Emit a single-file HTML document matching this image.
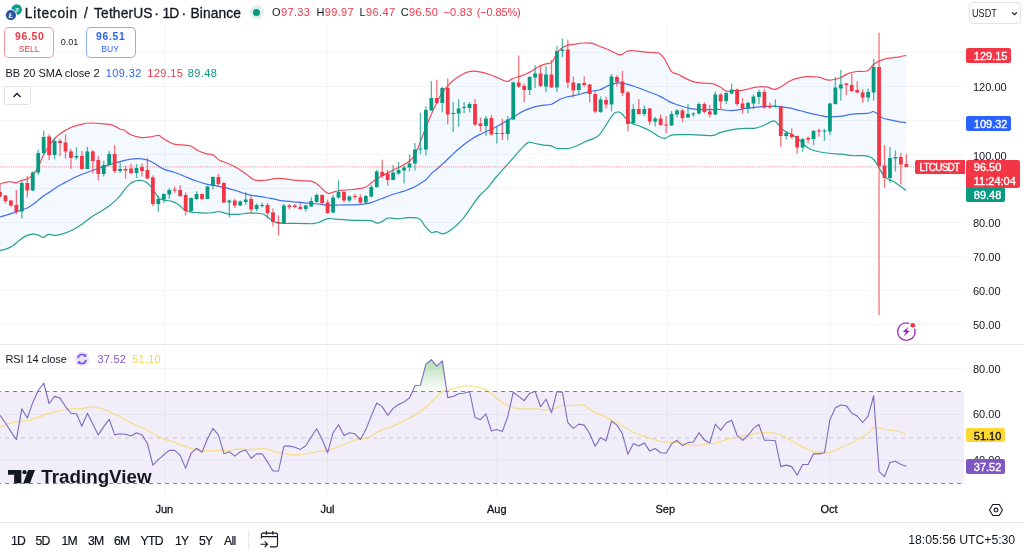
<!DOCTYPE html>
<html><head><meta charset="utf-8"><title>LTCUSDT</title>
<style>
html,body{margin:0;padding:0;background:#fff;}
body{width:1024px;height:555px;position:relative;overflow:hidden;font-family:"Liberation Sans",sans-serif;color:#131722;}
.t{position:absolute;white-space:nowrap;line-height:1;}
.ax{font-size:11px;left:973px;color:#131722;}
.lab{position:absolute;color:#fff;-webkit-text-stroke:0.35px currentColor;font-size:11px;line-height:1;white-space:nowrap;box-sizing:border-box;border-radius:2px;}
.w{position:absolute;top:0;display:inline-block;white-space:nowrap}
.r{color:#f23645}.b{color:#2962ff}.g{color:#089981}
.bt{font-size:12.2px;top:535.3px;letter-spacing:-0.7px;-webkit-text-stroke:0.2px #131722}
.mo{font-size:11px;top:504.3px;color:#131722;-webkit-text-stroke:0.3px #131722}
</style></head><body>
<svg width="1024" height="555" viewBox="0 0 1024 555" style="position:absolute;left:0;top:0">
<line x1="0" y1="52.5" x2="964" y2="52.5" stroke="#f4f5f8" stroke-width="1"/>
<line x1="0" y1="86.5" x2="964" y2="86.5" stroke="#f4f5f8" stroke-width="1"/>
<line x1="0" y1="120.5" x2="964" y2="120.5" stroke="#f4f5f8" stroke-width="1"/>
<line x1="0" y1="154.5" x2="964" y2="154.5" stroke="#f4f5f8" stroke-width="1"/>
<line x1="0" y1="188.5" x2="964" y2="188.5" stroke="#f4f5f8" stroke-width="1"/>
<line x1="0" y1="222.5" x2="964" y2="222.5" stroke="#f4f5f8" stroke-width="1"/>
<line x1="0" y1="256.5" x2="964" y2="256.5" stroke="#f4f5f8" stroke-width="1"/>
<line x1="0" y1="290.5" x2="964" y2="290.5" stroke="#f4f5f8" stroke-width="1"/>
<line x1="0" y1="324.5" x2="964" y2="324.5" stroke="#f4f5f8" stroke-width="1"/>
<line x1="0" y1="368.5" x2="964" y2="368.5" stroke="#f4f5f8" stroke-width="1"/>
<line x1="0" y1="414.5" x2="964" y2="414.5" stroke="#f4f5f8" stroke-width="1"/>
<line x1="0" y1="460.5" x2="964" y2="460.5" stroke="#f4f5f8" stroke-width="1"/>
<line x1="164.9" y1="24" x2="164.9" y2="344" stroke="#f4f5f8" stroke-width="1"/>
<line x1="164.9" y1="345" x2="164.9" y2="497" stroke="#f4f5f8" stroke-width="1"/>
<line x1="327.4" y1="24" x2="327.4" y2="344" stroke="#f4f5f8" stroke-width="1"/>
<line x1="327.4" y1="345" x2="327.4" y2="497" stroke="#f4f5f8" stroke-width="1"/>
<line x1="496.9" y1="24" x2="496.9" y2="344" stroke="#f4f5f8" stroke-width="1"/>
<line x1="496.9" y1="345" x2="496.9" y2="497" stroke="#f4f5f8" stroke-width="1"/>
<line x1="667.0" y1="24" x2="667.0" y2="344" stroke="#f4f5f8" stroke-width="1"/>
<line x1="667.0" y1="345" x2="667.0" y2="497" stroke="#f4f5f8" stroke-width="1"/>
<line x1="829.9" y1="24" x2="829.9" y2="344" stroke="#f4f5f8" stroke-width="1"/>
<line x1="829.9" y1="345" x2="829.9" y2="497" stroke="#f4f5f8" stroke-width="1"/>
<path d="M0.0,184.2 C1.1,183.8 4.2,182.6 6.3,182.2 C8.3,181.8 9.6,181.7 11.5,181.8 C13.3,181.9 14.6,183.1 16.4,182.9 C18.2,182.6 19.5,180.9 21.4,180.3 C23.3,179.6 25.2,180.0 27.0,179.2 C28.9,178.4 29.9,177.6 31.6,175.9 C33.3,174.3 34.9,172.6 36.5,170.1 C38.1,167.6 39.1,164.8 40.4,161.9 C41.8,159.0 42.6,156.6 44.1,153.9 C45.6,151.2 46.9,149.4 48.6,146.8 C50.4,144.1 51.9,141.6 54.1,139.2 C56.2,136.8 57.4,135.5 60.5,133.4 C63.7,131.2 67.5,129.0 71.4,127.3 C75.2,125.6 78.7,124.8 82.2,124.1 C85.7,123.3 87.3,123.1 90.8,123.0 C94.3,122.9 97.7,123.2 101.6,123.6 C105.5,124.0 108.9,124.1 112.4,125.1 C115.9,126.2 118.9,128.6 121.1,129.5 C123.2,130.3 122.6,129.0 124.3,130.0 C126.1,131.0 127.7,133.4 130.8,134.8 C133.9,136.1 137.7,137.3 141.6,137.6 C145.5,137.9 149.3,136.9 152.4,136.5 C155.5,136.1 157.0,135.0 158.9,135.4 C160.9,135.8 160.5,137.1 163.2,138.6 C166.0,140.2 170.2,142.9 174.1,144.1 C177.9,145.2 181.8,144.7 184.9,145.1 C188.0,145.5 189.0,145.2 191.4,146.2 C193.7,147.2 195.1,149.2 197.8,150.5 C200.6,151.9 203.8,153.0 206.5,153.8 C209.2,154.6 210.6,153.7 213.0,154.9 C215.3,156.0 216.7,158.7 219.5,160.3 C222.2,161.8 224.6,162.0 228.1,163.5 C231.6,165.1 235.6,167.0 238.9,168.9 C242.2,170.9 243.6,172.3 246.5,174.3 C249.4,176.3 251.6,179.1 255.1,180.2 C258.6,181.2 262.4,180.4 265.9,180.2 C269.4,179.9 271.5,178.9 274.6,178.6 C277.7,178.4 279.7,178.4 283.2,178.6 C286.7,178.9 290.2,179.8 294.1,180.2 C297.9,180.6 301.4,180.5 304.9,180.8 C308.4,181.1 310.8,180.8 313.5,181.9 C316.2,182.9 317.5,184.6 320.0,186.6 C322.5,188.7 324.8,192.2 327.6,193.1 C330.3,194.0 332.2,192.2 335.1,191.6 C338.1,191.1 340.7,190.5 343.8,190.1 C346.9,189.7 349.3,189.8 352.4,189.5 C355.5,189.1 358.6,188.9 361.1,188.4 C363.6,187.9 364.3,188.0 366.5,186.8 C368.6,185.5 370.2,183.3 373.0,181.4 C375.7,179.4 378.1,177.9 381.6,175.9 C385.1,174.0 388.5,172.5 392.4,170.5 C396.3,168.6 400.1,166.9 403.2,165.1 C406.4,163.4 407.6,162.8 409.7,160.8 C411.9,158.9 413.2,157.8 415.1,154.3 C417.1,150.8 418.6,146.2 420.5,141.4 C422.5,136.5 424.0,132.2 425.9,127.3 C427.9,122.4 429.4,118.8 431.4,114.3 C433.3,109.8 434.8,106.3 436.8,102.4 C438.7,98.5 440.2,95.6 442.2,92.7 C444.1,89.8 445.6,88.4 447.6,86.2 C449.5,84.1 450.8,82.6 453.0,80.8 C455.1,79.0 457.1,77.5 459.5,76.1 C461.8,74.6 463.6,73.5 465.9,72.6 C468.3,71.7 469.7,71.2 472.4,71.1 C475.2,71.0 478.2,71.6 481.1,72.2 C484.0,72.7 485.7,73.4 488.6,74.3 C491.6,75.3 494.0,76.3 497.3,77.6 C500.6,78.9 504.3,81.3 507.0,81.5 C509.8,81.7 510.3,79.5 512.4,78.6 C514.6,77.8 516.6,77.3 518.9,76.5 C521.3,75.7 523.1,75.3 525.4,74.3 C527.7,73.4 529.6,72.4 531.9,71.1 C534.2,69.7 536.0,68.0 538.4,66.8 C540.7,65.5 542.5,64.9 544.9,64.2 C547.2,63.4 549.4,63.9 551.4,62.4 C553.3,61.0 554.1,58.3 555.7,55.9 C557.2,53.6 558.1,51.3 560.0,49.5 C561.9,47.6 563.8,46.5 566.5,45.6 C569.2,44.6 572.0,44.5 575.1,44.1 C578.2,43.6 580.7,43.1 583.8,43.0 C586.9,42.9 589.5,42.8 592.4,43.4 C595.4,44.0 597.1,45.3 600.0,46.5 C602.9,47.6 605.5,48.4 608.6,49.7 C611.8,51.1 615.0,53.2 617.3,54.1 C619.6,54.9 619.9,55.2 621.6,54.7 C623.4,54.2 624.7,51.9 627.0,51.2 C629.4,50.5 631.7,50.7 634.6,50.8 C637.5,50.9 640.1,51.6 643.2,51.9 C646.4,52.2 649.0,52.3 651.9,52.5 C654.8,52.8 657.1,52.2 659.5,53.4 C661.8,54.7 662.7,56.2 664.9,59.5 C667.0,62.7 669.0,68.7 671.4,71.4 C673.7,74.0 675.1,72.8 677.8,74.2 C680.6,75.5 683.4,77.5 686.5,78.9 C689.6,80.4 692.0,81.4 695.1,82.2 C698.2,82.9 700.7,83.0 703.8,83.2 C706.9,83.5 710.1,83.3 712.4,83.7 C714.8,84.1 715.4,84.9 716.8,85.4 C718.1,86.0 718.2,85.7 720.0,86.8 C721.8,87.8 724.2,90.4 726.5,91.1 C728.8,91.8 730.2,90.8 733.0,90.6 C735.7,90.5 738.5,90.8 741.6,90.4 C744.7,90.0 747.2,89.1 750.3,88.5 C753.4,87.8 755.8,87.0 758.9,86.8 C762.0,86.5 764.6,86.7 767.6,87.2 C770.5,87.7 772.4,89.6 775.1,89.4 C777.9,89.1 779.8,87.3 782.7,85.7 C785.6,84.0 788.2,81.7 791.4,80.3 C794.5,78.8 796.9,78.3 800.0,77.7 C803.1,77.0 805.5,76.7 808.6,76.6 C811.8,76.5 815.3,76.9 817.3,77.0 C819.3,77.2 818.0,76.8 820.0,77.3 C822.0,77.9 825.1,80.0 828.6,80.1 C832.2,80.3 836.0,79.1 839.5,78.0 C843.0,76.8 845.0,74.8 848.1,73.6 C851.2,72.5 853.3,72.0 856.8,71.5 C860.3,71.0 864.5,72.2 867.6,70.8 C870.7,69.5 871.3,65.9 874.1,63.9 C876.8,61.9 879.6,60.7 882.7,59.6 C885.8,58.5 888.2,58.4 891.4,57.9 C894.5,57.4 897.4,57.3 900.0,56.8 C902.6,56.3 905.0,55.5 906.1,55.3 L906.1,190.3 C905.0,189.5 902.3,187.5 900.0,185.9 C897.7,184.4 895.8,183.0 893.5,181.6 C891.2,180.3 889.0,179.7 887.0,178.4 C885.1,177.0 884.3,176.2 882.7,174.1 C881.1,171.9 879.9,169.0 878.4,166.5 C876.8,164.0 875.6,161.8 874.1,160.0 C872.5,158.2 871.7,157.5 869.7,156.8 C867.8,156.0 866.4,155.9 863.2,155.7 C860.1,155.5 856.3,155.9 852.4,155.7 C848.5,155.4 845.5,154.6 841.6,154.2 C837.7,153.8 834.7,153.9 830.8,153.5 C826.9,153.1 823.6,152.7 820.0,152.0 C816.4,151.3 813.6,150.7 810.8,149.5 C808.0,148.2 806.7,147.1 804.3,145.1 C802.0,143.2 800.2,140.6 797.8,138.6 C795.5,136.7 793.9,135.8 791.4,134.3 C788.8,132.8 786.1,132.2 783.8,130.4 C781.4,128.7 780.1,126.3 778.4,124.6 C776.6,122.9 775.6,121.3 774.1,120.9 C772.5,120.5 771.7,121.6 769.7,122.4 C767.8,123.3 766.0,124.6 763.2,125.7 C760.5,126.7 757.7,127.8 754.6,128.3 C751.5,128.7 749.1,128.2 745.9,128.3 C742.8,128.4 740.4,128.5 737.3,128.9 C734.2,129.3 731.8,129.8 728.6,130.4 C725.5,131.1 722.9,131.7 720.0,132.6 C717.1,133.5 715.7,135.1 712.4,135.6 C709.1,136.0 705.5,135.3 701.6,135.1 C697.7,135.0 694.7,134.8 690.8,134.7 C686.9,134.6 683.5,134.6 680.0,134.7 C676.5,134.8 674.1,134.5 671.4,135.1 C668.6,135.8 667.2,138.2 664.9,138.4 C662.5,138.6 660.7,137.4 658.4,136.2 C656.0,135.0 654.6,133.4 651.9,131.9 C649.2,130.3 646.4,128.9 643.2,127.6 C640.1,126.2 637.3,125.5 634.6,124.3 C631.9,123.2 630.4,123.0 628.1,121.1 C625.8,119.1 623.6,115.1 621.6,113.5 C619.7,111.9 618.9,111.8 617.3,112.0 C615.7,112.2 614.9,112.4 613.0,114.6 C611.0,116.8 608.8,120.8 606.5,124.3 C604.2,127.8 602.1,131.6 600.0,134.1 C597.9,136.5 597.1,136.8 594.6,138.1 C592.1,139.4 589.1,140.0 585.9,141.4 C582.8,142.7 580.4,144.4 577.3,145.7 C574.2,147.0 571.8,148.0 568.6,148.5 C565.5,149.0 562.1,148.5 560.0,148.5 C557.9,148.5 558.5,149.0 556.8,148.5 C555.0,148.0 552.6,146.3 550.3,145.7 C547.9,145.1 546.5,145.6 543.8,145.2 C541.1,144.9 537.9,144.0 535.1,143.5 C532.4,143.0 531.0,141.7 528.6,142.4 C526.3,143.2 524.9,145.1 522.2,147.8 C519.4,150.6 516.6,154.1 513.5,157.6 C510.4,161.1 508.0,163.8 504.9,167.3 C501.8,170.8 499.3,173.3 496.2,177.0 C493.1,180.7 490.7,184.3 487.6,187.8 C484.5,191.3 482.0,192.8 478.9,196.5 C475.8,200.2 473.4,204.1 470.3,208.4 C467.2,212.7 465.4,216.2 461.6,220.3 C457.9,224.4 452.8,228.6 449.5,231.1 C446.1,233.5 445.3,233.8 443.0,233.9 C440.6,234.0 438.6,232.0 436.5,231.7 C434.3,231.4 433.2,233.3 431.1,232.2 C428.9,231.1 426.7,228.1 424.6,225.7 C422.5,223.3 422.1,220.2 419.2,218.8 C416.3,217.3 412.3,217.7 408.4,217.7 C404.5,217.7 401.3,218.7 397.6,218.8 C393.9,218.8 390.6,217.6 387.8,218.1 C385.1,218.6 384.4,220.5 382.4,221.4 C380.5,222.2 379.0,223.2 377.0,223.1 C375.1,223.0 374.5,221.4 371.6,220.9 C368.8,220.4 364.5,220.5 361.1,220.4 C357.6,220.3 355.5,220.5 352.4,220.4 C349.3,220.3 346.9,220.0 343.8,219.7 C340.7,219.5 338.1,219.3 335.1,219.1 C332.2,218.9 330.3,218.1 327.6,218.6 C324.8,219.2 322.5,221.0 320.0,221.9 C317.5,222.8 316.2,223.3 313.5,223.6 C310.8,223.9 308.4,223.7 304.9,223.6 C301.4,223.6 297.9,223.4 294.1,223.4 C290.2,223.4 286.7,223.7 283.2,223.4 C279.7,223.1 277.3,222.9 274.6,221.9 C271.9,220.8 270.1,218.9 268.1,217.6 C266.2,216.2 265.7,215.1 263.8,214.3 C261.8,213.5 260.0,213.4 257.3,213.2 C254.6,213.0 252.0,213.0 248.6,213.2 C245.3,213.4 242.2,214.1 238.9,214.3 C235.6,214.5 233.0,214.6 230.3,214.3 C227.5,214.1 225.9,213.3 223.8,212.8 C221.6,212.3 220.3,211.6 218.4,211.5 C216.4,211.5 215.1,212.3 213.0,212.6 C210.8,212.9 209.2,213.2 206.5,213.2 C203.8,213.2 200.6,212.8 197.8,212.6 C195.1,212.4 193.7,212.6 191.4,212.2 C189.0,211.7 187.2,211.4 184.9,210.0 C182.5,208.6 180.7,206.2 178.4,204.6 C176.0,203.0 174.2,202.1 171.9,201.4 C169.6,200.6 167.7,200.9 165.4,200.3 C163.1,199.7 161.3,200.2 158.9,198.1 C156.6,196.0 154.8,191.3 152.4,188.4 C150.1,185.5 148.3,183.3 145.9,181.9 C143.6,180.5 141.8,180.4 139.5,180.4 C137.1,180.4 135.3,180.6 133.0,181.9 C130.6,183.1 128.8,184.8 126.5,187.3 C124.2,189.8 122.1,193.4 120.0,195.9 C117.9,198.5 116.7,199.4 114.6,201.4 C112.5,203.3 110.8,204.8 108.1,206.8 C105.4,208.7 102.6,210.2 99.5,212.2 C96.3,214.1 93.9,215.4 90.8,217.6 C87.7,219.7 85.3,221.9 82.2,224.1 C79.0,226.2 76.6,227.8 73.5,229.5 C70.4,231.1 68.0,232.1 64.9,233.1 C61.8,234.2 59.1,235.1 56.2,235.3 C53.3,235.5 51.0,234.0 48.6,234.4 C46.3,234.8 45.2,237.4 43.2,237.5 C41.3,237.5 39.8,235.4 37.8,234.9 C35.9,234.3 34.6,234.0 32.4,234.2 C30.3,234.4 28.3,234.9 25.9,235.9 C23.6,237.0 21.8,238.5 19.5,240.3 C17.1,242.0 15.3,244.1 13.0,245.7 C10.6,247.2 8.8,248.1 6.5,248.9 C4.2,249.8 1.2,250.2 0.0,250.4 Z" fill="#2196f3" fill-opacity="0.055" stroke="none"/>
<path d="M0.0,217.0 C2.3,216.3 8.0,214.6 12.5,213.1 C17.1,211.7 21.7,210.3 25.3,208.8 C28.9,207.3 30.2,206.2 32.4,204.7 C34.7,203.2 35.9,202.1 37.8,200.6 C39.8,199.1 40.9,197.9 43.2,196.3 C45.5,194.6 48.1,193.2 50.6,191.5 C53.1,189.8 54.7,188.4 57.3,186.8 C59.9,185.2 61.6,184.4 64.9,182.6 C68.2,180.9 71.8,178.8 75.7,177.0 C79.6,175.2 82.6,174.2 86.5,172.7 C90.4,171.2 93.4,170.2 97.3,168.8 C101.2,167.4 104.2,166.4 108.1,165.1 C112.0,163.9 114.8,163.0 118.9,161.9 C123.0,160.8 126.7,159.8 130.8,159.2 C134.9,158.6 138.5,158.6 141.6,158.8 C144.7,159.0 145.8,159.4 148.1,160.3 C150.4,161.1 151.9,162.0 154.6,163.5 C157.3,165.1 159.7,167.4 163.2,168.9 C166.7,170.5 170.2,170.8 174.1,172.2 C177.9,173.5 181.0,174.9 184.9,176.5 C188.8,178.0 191.8,179.4 195.7,180.8 C199.6,182.2 203.4,183.3 206.5,184.1 C209.6,184.8 210.6,184.7 213.0,185.1 C215.3,185.6 216.7,186.1 219.5,186.6 C222.2,187.2 224.6,187.5 228.1,188.4 C231.6,189.3 235.6,190.6 238.9,191.6 C242.2,192.7 243.6,193.4 246.5,194.2 C249.4,195.0 251.6,195.4 255.1,195.9 C258.6,196.5 262.4,196.9 265.9,197.5 C269.4,198.0 271.5,198.6 274.6,199.2 C277.7,199.8 279.7,200.5 283.2,200.9 C286.7,201.4 290.2,201.4 294.1,201.8 C297.9,202.1 301.4,202.6 304.9,202.9 C308.4,203.2 310.8,203.3 313.5,203.5 C316.2,203.7 317.5,203.9 320.0,204.2 C322.5,204.5 324.8,205.0 327.6,205.2 C330.3,205.4 332.2,205.3 335.1,205.2 C338.1,205.2 340.7,204.9 343.8,204.8 C346.9,204.7 348.2,205.0 352.4,204.8 C356.7,204.6 363.1,204.3 367.3,203.6 C371.5,202.9 372.8,201.9 375.9,200.8 C379.1,199.7 381.5,198.7 384.6,197.6 C387.7,196.4 389.7,195.5 393.2,194.3 C396.7,193.2 400.2,192.4 404.1,191.1 C407.9,189.7 411.4,188.5 414.9,186.8 C418.4,185.0 421.3,182.9 423.5,181.4 C425.8,179.8 425.8,180.0 427.4,178.4 C429.0,176.8 430.7,174.2 432.2,172.7 C433.6,171.2 433.4,172.0 435.5,170.3 C437.6,168.6 441.0,165.4 443.6,163.0 C446.2,160.6 447.5,159.3 450.0,157.0 C452.5,154.7 454.0,152.8 457.3,150.0 C460.6,147.2 464.2,144.1 468.1,141.4 C472.0,138.6 475.2,136.8 478.9,134.9 C482.6,132.9 485.3,132.1 488.6,130.5 C492.0,129.0 494.0,128.0 497.3,126.2 C500.6,124.5 503.9,122.6 507.0,120.8 C510.1,119.1 511.7,118.2 514.6,116.5 C517.5,114.7 520.1,112.6 523.2,111.1 C526.4,109.5 528.8,108.8 531.9,107.8 C535.0,106.9 537.0,106.3 540.5,105.7 C544.0,105.0 547.8,105.3 551.4,104.2 C554.9,103.0 557.3,100.5 560.0,99.2 C562.7,97.9 563.8,97.7 566.5,97.0 C569.2,96.3 572.0,96.0 575.1,95.3 C578.2,94.6 580.7,93.9 583.8,93.1 C586.9,92.4 589.5,91.6 592.4,91.0 C595.4,90.4 597.5,90.5 600.0,89.7 C602.5,88.9 604.2,87.5 606.5,86.5 C608.8,85.4 610.6,84.6 613.0,83.9 C615.3,83.2 617.1,82.8 619.5,82.8 C621.8,82.8 623.2,83.2 625.9,83.9 C628.7,84.6 631.5,85.4 634.6,86.5 C637.7,87.5 640.1,88.6 643.2,89.7 C646.4,90.9 648.8,91.7 651.9,93.0 C655.0,94.2 657.4,95.1 660.5,96.6 C663.7,98.2 666.1,100.1 669.2,101.6 C672.3,103.1 674.7,103.8 677.8,104.9 C681.0,105.9 683.4,106.7 686.5,107.5 C689.6,108.2 692.0,108.8 695.1,109.2 C698.2,109.6 700.7,109.5 703.8,109.6 C706.9,109.7 709.5,109.7 712.4,109.6 C715.4,109.6 717.1,109.3 720.0,109.5 C722.9,109.6 725.5,110.4 728.6,110.5 C731.8,110.7 734.2,110.5 737.3,110.1 C740.4,109.7 742.8,108.9 745.9,108.4 C749.1,107.9 751.5,107.6 754.6,107.3 C757.7,107.0 760.1,106.8 763.2,106.6 C766.4,106.5 768.8,106.2 771.9,106.2 C775.0,106.2 777.4,106.3 780.5,106.6 C783.7,107.0 786.1,107.3 789.2,107.9 C792.3,108.6 794.7,109.3 797.8,110.1 C801.0,110.9 803.4,111.5 806.5,112.3 C809.6,113.0 812.7,113.9 815.1,114.4 C817.6,115.0 817.6,114.9 820.0,115.4 C822.4,115.8 824.8,116.7 828.6,116.9 C832.5,117.0 837.3,116.7 841.6,116.2 C845.9,115.7 848.5,114.5 852.4,114.1 C856.3,113.6 860.1,113.8 863.2,113.6 C866.4,113.5 868.0,113.4 869.7,113.0 C871.5,112.6 871.6,111.4 873.0,111.5 C874.3,111.6 875.5,112.5 877.3,113.6 C879.0,114.8 880.2,116.8 882.7,118.0 C885.2,119.1 888.2,119.4 891.4,120.1 C894.5,120.8 897.4,121.4 900.0,121.9 C902.6,122.3 905.0,122.6 906.1,122.7" fill="none" stroke="#2f5fee" stroke-width="1.2" stroke-opacity="0.9" stroke-linejoin="round"/>
<path d="M0.0,184.2 C1.1,183.8 4.2,182.6 6.3,182.2 C8.3,181.8 9.6,181.7 11.5,181.8 C13.3,181.9 14.6,183.1 16.4,182.9 C18.2,182.6 19.5,180.9 21.4,180.3 C23.3,179.6 25.2,180.0 27.0,179.2 C28.9,178.4 29.9,177.6 31.6,175.9 C33.3,174.3 34.9,172.6 36.5,170.1 C38.1,167.6 39.1,164.8 40.4,161.9 C41.8,159.0 42.6,156.6 44.1,153.9 C45.6,151.2 46.9,149.4 48.6,146.8 C50.4,144.1 51.9,141.6 54.1,139.2 C56.2,136.8 57.4,135.5 60.5,133.4 C63.7,131.2 67.5,129.0 71.4,127.3 C75.2,125.6 78.7,124.8 82.2,124.1 C85.7,123.3 87.3,123.1 90.8,123.0 C94.3,122.9 97.7,123.2 101.6,123.6 C105.5,124.0 108.9,124.1 112.4,125.1 C115.9,126.2 118.9,128.6 121.1,129.5 C123.2,130.3 122.6,129.0 124.3,130.0 C126.1,131.0 127.7,133.4 130.8,134.8 C133.9,136.1 137.7,137.3 141.6,137.6 C145.5,137.9 149.3,136.9 152.4,136.5 C155.5,136.1 157.0,135.0 158.9,135.4 C160.9,135.8 160.5,137.1 163.2,138.6 C166.0,140.2 170.2,142.9 174.1,144.1 C177.9,145.2 181.8,144.7 184.9,145.1 C188.0,145.5 189.0,145.2 191.4,146.2 C193.7,147.2 195.1,149.2 197.8,150.5 C200.6,151.9 203.8,153.0 206.5,153.8 C209.2,154.6 210.6,153.7 213.0,154.9 C215.3,156.0 216.7,158.7 219.5,160.3 C222.2,161.8 224.6,162.0 228.1,163.5 C231.6,165.1 235.6,167.0 238.9,168.9 C242.2,170.9 243.6,172.3 246.5,174.3 C249.4,176.3 251.6,179.1 255.1,180.2 C258.6,181.2 262.4,180.4 265.9,180.2 C269.4,179.9 271.5,178.9 274.6,178.6 C277.7,178.4 279.7,178.4 283.2,178.6 C286.7,178.9 290.2,179.8 294.1,180.2 C297.9,180.6 301.4,180.5 304.9,180.8 C308.4,181.1 310.8,180.8 313.5,181.9 C316.2,182.9 317.5,184.6 320.0,186.6 C322.5,188.7 324.8,192.2 327.6,193.1 C330.3,194.0 332.2,192.2 335.1,191.6 C338.1,191.1 340.7,190.5 343.8,190.1 C346.9,189.7 349.3,189.8 352.4,189.5 C355.5,189.1 358.6,188.9 361.1,188.4 C363.6,187.9 364.3,188.0 366.5,186.8 C368.6,185.5 370.2,183.3 373.0,181.4 C375.7,179.4 378.1,177.9 381.6,175.9 C385.1,174.0 388.5,172.5 392.4,170.5 C396.3,168.6 400.1,166.9 403.2,165.1 C406.4,163.4 407.6,162.8 409.7,160.8 C411.9,158.9 413.2,157.8 415.1,154.3 C417.1,150.8 418.6,146.2 420.5,141.4 C422.5,136.5 424.0,132.2 425.9,127.3 C427.9,122.4 429.4,118.8 431.4,114.3 C433.3,109.8 434.8,106.3 436.8,102.4 C438.7,98.5 440.2,95.6 442.2,92.7 C444.1,89.8 445.6,88.4 447.6,86.2 C449.5,84.1 450.8,82.6 453.0,80.8 C455.1,79.0 457.1,77.5 459.5,76.1 C461.8,74.6 463.6,73.5 465.9,72.6 C468.3,71.7 469.7,71.2 472.4,71.1 C475.2,71.0 478.2,71.6 481.1,72.2 C484.0,72.7 485.7,73.4 488.6,74.3 C491.6,75.3 494.0,76.3 497.3,77.6 C500.6,78.9 504.3,81.3 507.0,81.5 C509.8,81.7 510.3,79.5 512.4,78.6 C514.6,77.8 516.6,77.3 518.9,76.5 C521.3,75.7 523.1,75.3 525.4,74.3 C527.7,73.4 529.6,72.4 531.9,71.1 C534.2,69.7 536.0,68.0 538.4,66.8 C540.7,65.5 542.5,64.9 544.9,64.2 C547.2,63.4 549.4,63.9 551.4,62.4 C553.3,61.0 554.1,58.3 555.7,55.9 C557.2,53.6 558.1,51.3 560.0,49.5 C561.9,47.6 563.8,46.5 566.5,45.6 C569.2,44.6 572.0,44.5 575.1,44.1 C578.2,43.6 580.7,43.1 583.8,43.0 C586.9,42.9 589.5,42.8 592.4,43.4 C595.4,44.0 597.1,45.3 600.0,46.5 C602.9,47.6 605.5,48.4 608.6,49.7 C611.8,51.1 615.0,53.2 617.3,54.1 C619.6,54.9 619.9,55.2 621.6,54.7 C623.4,54.2 624.7,51.9 627.0,51.2 C629.4,50.5 631.7,50.7 634.6,50.8 C637.5,50.9 640.1,51.6 643.2,51.9 C646.4,52.2 649.0,52.3 651.9,52.5 C654.8,52.8 657.1,52.2 659.5,53.4 C661.8,54.7 662.7,56.2 664.9,59.5 C667.0,62.7 669.0,68.7 671.4,71.4 C673.7,74.0 675.1,72.8 677.8,74.2 C680.6,75.5 683.4,77.5 686.5,78.9 C689.6,80.4 692.0,81.4 695.1,82.2 C698.2,82.9 700.7,83.0 703.8,83.2 C706.9,83.5 710.1,83.3 712.4,83.7 C714.8,84.1 715.4,84.9 716.8,85.4 C718.1,86.0 718.2,85.7 720.0,86.8 C721.8,87.8 724.2,90.4 726.5,91.1 C728.8,91.8 730.2,90.8 733.0,90.6 C735.7,90.5 738.5,90.8 741.6,90.4 C744.7,90.0 747.2,89.1 750.3,88.5 C753.4,87.8 755.8,87.0 758.9,86.8 C762.0,86.5 764.6,86.7 767.6,87.2 C770.5,87.7 772.4,89.6 775.1,89.4 C777.9,89.1 779.8,87.3 782.7,85.7 C785.6,84.0 788.2,81.7 791.4,80.3 C794.5,78.8 796.9,78.3 800.0,77.7 C803.1,77.0 805.5,76.7 808.6,76.6 C811.8,76.5 815.3,76.9 817.3,77.0 C819.3,77.2 818.0,76.8 820.0,77.3 C822.0,77.9 825.1,80.0 828.6,80.1 C832.2,80.3 836.0,79.1 839.5,78.0 C843.0,76.8 845.0,74.8 848.1,73.6 C851.2,72.5 853.3,72.0 856.8,71.5 C860.3,71.0 864.5,72.2 867.6,70.8 C870.7,69.5 871.3,65.9 874.1,63.9 C876.8,61.9 879.6,60.7 882.7,59.6 C885.8,58.5 888.2,58.4 891.4,57.9 C894.5,57.4 897.4,57.3 900.0,56.8 C902.6,56.3 905.0,55.5 906.1,55.3" fill="none" stroke="#ee3848" stroke-width="1.2" stroke-opacity="0.9" stroke-linejoin="round"/>
<path d="M0.0,250.4 C1.2,250.2 4.2,249.8 6.5,248.9 C8.8,248.1 10.6,247.2 13.0,245.7 C15.3,244.1 17.1,242.0 19.5,240.3 C21.8,238.5 23.6,237.0 25.9,235.9 C28.3,234.9 30.3,234.4 32.4,234.2 C34.6,234.0 35.9,234.3 37.8,234.9 C39.8,235.4 41.3,237.5 43.2,237.5 C45.2,237.4 46.3,234.8 48.6,234.4 C51.0,234.0 53.3,235.5 56.2,235.3 C59.1,235.1 61.8,234.2 64.9,233.1 C68.0,232.1 70.4,231.1 73.5,229.5 C76.6,227.8 79.0,226.2 82.2,224.1 C85.3,221.9 87.7,219.7 90.8,217.6 C93.9,215.4 96.3,214.1 99.5,212.2 C102.6,210.2 105.4,208.7 108.1,206.8 C110.8,204.8 112.5,203.3 114.6,201.4 C116.7,199.4 117.9,198.5 120.0,195.9 C122.1,193.4 124.2,189.8 126.5,187.3 C128.8,184.8 130.6,183.1 133.0,181.9 C135.3,180.6 137.1,180.4 139.5,180.4 C141.8,180.4 143.6,180.5 145.9,181.9 C148.3,183.3 150.1,185.5 152.4,188.4 C154.8,191.3 156.6,196.0 158.9,198.1 C161.3,200.2 163.1,199.7 165.4,200.3 C167.7,200.9 169.6,200.6 171.9,201.4 C174.2,202.1 176.0,203.0 178.4,204.6 C180.7,206.2 182.5,208.6 184.9,210.0 C187.2,211.4 189.0,211.7 191.4,212.2 C193.7,212.6 195.1,212.4 197.8,212.6 C200.6,212.8 203.8,213.2 206.5,213.2 C209.2,213.2 210.8,212.9 213.0,212.6 C215.1,212.3 216.4,211.5 218.4,211.5 C220.3,211.6 221.6,212.3 223.8,212.8 C225.9,213.3 227.5,214.1 230.3,214.3 C233.0,214.6 235.6,214.5 238.9,214.3 C242.2,214.1 245.3,213.4 248.6,213.2 C252.0,213.0 254.6,213.0 257.3,213.2 C260.0,213.4 261.8,213.5 263.8,214.3 C265.7,215.1 266.2,216.2 268.1,217.6 C270.1,218.9 271.9,220.8 274.6,221.9 C277.3,222.9 279.7,223.1 283.2,223.4 C286.7,223.7 290.2,223.4 294.1,223.4 C297.9,223.4 301.4,223.6 304.9,223.6 C308.4,223.7 310.8,223.9 313.5,223.6 C316.2,223.3 317.5,222.8 320.0,221.9 C322.5,221.0 324.8,219.2 327.6,218.6 C330.3,218.1 332.2,218.9 335.1,219.1 C338.1,219.3 340.7,219.5 343.8,219.7 C346.9,220.0 349.3,220.3 352.4,220.4 C355.5,220.5 357.6,220.3 361.1,220.4 C364.5,220.5 368.8,220.4 371.6,220.9 C374.5,221.4 375.1,223.0 377.0,223.1 C379.0,223.2 380.5,222.2 382.4,221.4 C384.4,220.5 385.1,218.6 387.8,218.1 C390.6,217.6 393.9,218.8 397.6,218.8 C401.3,218.7 404.5,217.7 408.4,217.7 C412.3,217.7 416.3,217.3 419.2,218.8 C422.1,220.2 422.5,223.3 424.6,225.7 C426.7,228.1 428.9,231.1 431.1,232.2 C433.2,233.3 434.3,231.4 436.5,231.7 C438.6,232.0 440.6,234.0 443.0,233.9 C445.3,233.8 446.1,233.5 449.5,231.1 C452.8,228.6 457.9,224.4 461.6,220.3 C465.4,216.2 467.2,212.7 470.3,208.4 C473.4,204.1 475.8,200.2 478.9,196.5 C482.0,192.8 484.5,191.3 487.6,187.8 C490.7,184.3 493.1,180.7 496.2,177.0 C499.3,173.3 501.8,170.8 504.9,167.3 C508.0,163.8 510.4,161.1 513.5,157.6 C516.6,154.1 519.4,150.6 522.2,147.8 C524.9,145.1 526.3,143.2 528.6,142.4 C531.0,141.7 532.4,143.0 535.1,143.5 C537.9,144.0 541.1,144.9 543.8,145.2 C546.5,145.6 547.9,145.1 550.3,145.7 C552.6,146.3 555.0,148.0 556.8,148.5 C558.5,149.0 557.9,148.5 560.0,148.5 C562.1,148.5 565.5,149.0 568.6,148.5 C571.8,148.0 574.2,147.0 577.3,145.7 C580.4,144.4 582.8,142.7 585.9,141.4 C589.1,140.0 592.1,139.4 594.6,138.1 C597.1,136.8 597.9,136.5 600.0,134.1 C602.1,131.6 604.2,127.8 606.5,124.3 C608.8,120.8 611.0,116.8 613.0,114.6 C614.9,112.4 615.7,112.2 617.3,112.0 C618.9,111.8 619.7,111.9 621.6,113.5 C623.6,115.1 625.8,119.1 628.1,121.1 C630.4,123.0 631.9,123.2 634.6,124.3 C637.3,125.5 640.1,126.2 643.2,127.6 C646.4,128.9 649.2,130.3 651.9,131.9 C654.6,133.4 656.0,135.0 658.4,136.2 C660.7,137.4 662.5,138.6 664.9,138.4 C667.2,138.2 668.6,135.8 671.4,135.1 C674.1,134.5 676.5,134.8 680.0,134.7 C683.5,134.6 686.9,134.6 690.8,134.7 C694.7,134.8 697.7,135.0 701.6,135.1 C705.5,135.3 709.1,136.0 712.4,135.6 C715.7,135.1 717.1,133.5 720.0,132.6 C722.9,131.7 725.5,131.1 728.6,130.4 C731.8,129.8 734.2,129.3 737.3,128.9 C740.4,128.5 742.8,128.4 745.9,128.3 C749.1,128.2 751.5,128.7 754.6,128.3 C757.7,127.8 760.5,126.7 763.2,125.7 C766.0,124.6 767.8,123.3 769.7,122.4 C771.7,121.6 772.5,120.5 774.1,120.9 C775.6,121.3 776.6,122.9 778.4,124.6 C780.1,126.3 781.4,128.7 783.8,130.4 C786.1,132.2 788.8,132.8 791.4,134.3 C793.9,135.8 795.5,136.7 797.8,138.6 C800.2,140.6 802.0,143.2 804.3,145.1 C806.7,147.1 808.0,148.2 810.8,149.5 C813.6,150.7 816.4,151.3 820.0,152.0 C823.6,152.7 826.9,153.1 830.8,153.5 C834.7,153.9 837.7,153.8 841.6,154.2 C845.5,154.6 848.5,155.4 852.4,155.7 C856.3,155.9 860.1,155.5 863.2,155.7 C866.4,155.9 867.8,156.0 869.7,156.8 C871.7,157.5 872.5,158.2 874.1,160.0 C875.6,161.8 876.8,164.0 878.4,166.5 C879.9,169.0 881.1,171.9 882.7,174.1 C884.3,176.2 885.1,177.0 887.0,178.4 C889.0,179.7 891.2,180.3 893.5,181.6 C895.8,183.0 897.7,184.4 900.0,185.9 C902.3,187.5 905.0,189.5 906.1,190.3" fill="none" stroke="#0d9982" stroke-width="1.2" stroke-opacity="0.9" stroke-linejoin="round"/>
<line x1="0" y1="166.9" x2="964" y2="166.9" stroke="#f23645" stroke-width="1" stroke-opacity="0.6" stroke-dasharray="1 1.2"/>
<rect x="-0.65" y="184.6" width="1.3" height="13.0" fill="#f23645" fill-opacity="0.7"/>
<rect x="-1.90" y="192.0" width="3.8" height="4.5" fill="#f23645"/>
<rect x="4.81" y="195.0" width="1.3" height="8.4" fill="#f23645" fill-opacity="0.7"/>
<rect x="3.56" y="195.5" width="3.8" height="5.5" fill="#f23645"/>
<rect x="10.27" y="199.7" width="1.3" height="7.1" fill="#f23645" fill-opacity="0.7"/>
<rect x="9.02" y="200.5" width="3.8" height="5.0" fill="#f23645"/>
<rect x="15.73" y="190.0" width="1.3" height="24.2" fill="#f23645" fill-opacity="0.7"/>
<rect x="14.48" y="205.0" width="3.8" height="7.0" fill="#f23645"/>
<rect x="21.19" y="180.3" width="1.3" height="38.3" fill="#089981" fill-opacity="0.7"/>
<rect x="19.94" y="183.0" width="3.8" height="28.5" fill="#089981"/>
<rect x="26.65" y="175.9" width="1.3" height="21.6" fill="#f23645" fill-opacity="0.7"/>
<rect x="25.40" y="183.0" width="3.8" height="7.5" fill="#f23645"/>
<rect x="32.11" y="171.2" width="1.3" height="19.9" fill="#089981" fill-opacity="0.7"/>
<rect x="30.86" y="172.5" width="3.8" height="18.0" fill="#089981"/>
<rect x="37.57" y="149.6" width="1.3" height="25.3" fill="#089981" fill-opacity="0.7"/>
<rect x="36.32" y="153.0" width="3.8" height="19.5" fill="#089981"/>
<rect x="43.03" y="130.5" width="1.3" height="23.8" fill="#089981" fill-opacity="0.7"/>
<rect x="41.78" y="137.0" width="3.8" height="16.0" fill="#089981"/>
<rect x="48.49" y="134.4" width="1.3" height="25.7" fill="#f23645" fill-opacity="0.7"/>
<rect x="47.24" y="136.5" width="3.8" height="18.5" fill="#f23645"/>
<rect x="53.95" y="137.7" width="1.3" height="21.6" fill="#089981" fill-opacity="0.7"/>
<rect x="52.70" y="141.0" width="3.8" height="14.0" fill="#089981"/>
<rect x="59.41" y="138.8" width="1.3" height="17.3" fill="#f23645" fill-opacity="0.7"/>
<rect x="58.16" y="141.0" width="3.8" height="2.0" fill="#f23645"/>
<rect x="64.87" y="134.4" width="1.3" height="24.2" fill="#f23645" fill-opacity="0.7"/>
<rect x="63.62" y="142.5" width="3.8" height="9.0" fill="#f23645"/>
<rect x="70.33" y="148.9" width="1.3" height="19.9" fill="#f23645" fill-opacity="0.7"/>
<rect x="69.08" y="151.5" width="3.8" height="6.5" fill="#f23645"/>
<rect x="75.79" y="147.2" width="1.3" height="12.5" fill="#089981" fill-opacity="0.7"/>
<rect x="74.54" y="156.0" width="3.8" height="1.5" fill="#089981"/>
<rect x="81.25" y="151.1" width="1.3" height="17.9" fill="#f23645" fill-opacity="0.7"/>
<rect x="80.00" y="156.0" width="3.8" height="13.0" fill="#f23645"/>
<rect x="86.71" y="146.8" width="1.3" height="22.2" fill="#089981" fill-opacity="0.7"/>
<rect x="85.46" y="151.5" width="3.8" height="17.5" fill="#089981"/>
<rect x="92.17" y="150.0" width="1.3" height="23.4" fill="#f23645" fill-opacity="0.7"/>
<rect x="90.92" y="151.5" width="3.8" height="9.5" fill="#f23645"/>
<rect x="97.63" y="156.1" width="1.3" height="24.2" fill="#f23645" fill-opacity="0.7"/>
<rect x="96.38" y="160.0" width="3.8" height="14.0" fill="#f23645"/>
<rect x="103.09" y="160.8" width="1.3" height="15.8" fill="#089981" fill-opacity="0.7"/>
<rect x="101.84" y="165.0" width="3.8" height="9.0" fill="#089981"/>
<rect x="108.55" y="151.1" width="1.3" height="14.7" fill="#089981" fill-opacity="0.7"/>
<rect x="107.30" y="154.0" width="3.8" height="11.0" fill="#089981"/>
<rect x="114.01" y="145.2" width="1.3" height="28.1" fill="#f23645" fill-opacity="0.7"/>
<rect x="112.76" y="154.0" width="3.8" height="17.0" fill="#f23645"/>
<rect x="119.47" y="162.4" width="1.3" height="10.4" fill="#089981" fill-opacity="0.7"/>
<rect x="118.22" y="169.0" width="3.8" height="2.0" fill="#089981"/>
<rect x="124.93" y="165.7" width="1.3" height="13.0" fill="#f23645" fill-opacity="0.7"/>
<rect x="123.68" y="169.0" width="3.8" height="1.5" fill="#f23645"/>
<rect x="130.39" y="163.5" width="1.3" height="10.8" fill="#f23645" fill-opacity="0.7"/>
<rect x="129.14" y="168.5" width="3.8" height="4.5" fill="#f23645"/>
<rect x="135.85" y="164.2" width="1.3" height="13.8" fill="#089981" fill-opacity="0.7"/>
<rect x="134.60" y="168.0" width="3.8" height="5.0" fill="#089981"/>
<rect x="141.31" y="163.5" width="1.3" height="13.0" fill="#f23645" fill-opacity="0.7"/>
<rect x="140.06" y="167.0" width="3.8" height="4.0" fill="#f23645"/>
<rect x="146.77" y="158.1" width="1.3" height="21.2" fill="#f23645" fill-opacity="0.7"/>
<rect x="145.52" y="170.0" width="3.8" height="8.5" fill="#f23645"/>
<rect x="152.23" y="175.4" width="1.3" height="30.7" fill="#f23645" fill-opacity="0.7"/>
<rect x="150.98" y="177.5" width="3.8" height="26.5" fill="#f23645"/>
<rect x="157.69" y="195.9" width="1.3" height="15.8" fill="#089981" fill-opacity="0.7"/>
<rect x="156.44" y="199.0" width="3.8" height="5.0" fill="#089981"/>
<rect x="163.15" y="193.4" width="1.3" height="9.7" fill="#089981" fill-opacity="0.7"/>
<rect x="161.90" y="194.0" width="3.8" height="5.5" fill="#089981"/>
<rect x="168.61" y="188.4" width="1.3" height="10.4" fill="#089981" fill-opacity="0.7"/>
<rect x="167.36" y="190.0" width="3.8" height="4.5" fill="#089981"/>
<rect x="174.07" y="186.6" width="1.3" height="6.1" fill="#f23645" fill-opacity="0.7"/>
<rect x="172.82" y="189.5" width="3.8" height="1.0" fill="#f23645"/>
<rect x="179.53" y="185.1" width="1.3" height="11.9" fill="#f23645" fill-opacity="0.7"/>
<rect x="178.28" y="190.0" width="3.8" height="6.0" fill="#f23645"/>
<rect x="184.99" y="192.3" width="1.3" height="23.1" fill="#f23645" fill-opacity="0.7"/>
<rect x="183.74" y="195.0" width="3.8" height="16.0" fill="#f23645"/>
<rect x="190.45" y="197.5" width="1.3" height="14.7" fill="#089981" fill-opacity="0.7"/>
<rect x="189.20" y="198.0" width="3.8" height="13.0" fill="#089981"/>
<rect x="195.91" y="191.2" width="1.3" height="9.1" fill="#089981" fill-opacity="0.7"/>
<rect x="194.66" y="194.0" width="3.8" height="5.0" fill="#089981"/>
<rect x="201.37" y="193.4" width="1.3" height="6.9" fill="#f23645" fill-opacity="0.7"/>
<rect x="200.12" y="194.0" width="3.8" height="5.0" fill="#f23645"/>
<rect x="206.83" y="185.8" width="1.3" height="13.4" fill="#089981" fill-opacity="0.7"/>
<rect x="205.58" y="186.5" width="3.8" height="12.5" fill="#089981"/>
<rect x="212.29" y="176.5" width="1.3" height="13.0" fill="#089981" fill-opacity="0.7"/>
<rect x="211.04" y="177.0" width="3.8" height="9.0" fill="#089981"/>
<rect x="217.75" y="173.9" width="1.3" height="12.8" fill="#f23645" fill-opacity="0.7"/>
<rect x="216.50" y="177.0" width="3.8" height="7.0" fill="#f23645"/>
<rect x="223.21" y="181.9" width="1.3" height="21.2" fill="#f23645" fill-opacity="0.7"/>
<rect x="221.96" y="183.0" width="3.8" height="19.5" fill="#f23645"/>
<rect x="228.67" y="199.6" width="1.3" height="17.9" fill="#089981" fill-opacity="0.7"/>
<rect x="227.42" y="200.5" width="3.8" height="2.0" fill="#089981"/>
<rect x="234.13" y="198.8" width="1.3" height="9.1" fill="#f23645" fill-opacity="0.7"/>
<rect x="232.88" y="200.5" width="3.8" height="5.0" fill="#f23645"/>
<rect x="239.59" y="200.3" width="1.3" height="5.8" fill="#089981" fill-opacity="0.7"/>
<rect x="238.34" y="201.5" width="3.8" height="4.0" fill="#089981"/>
<rect x="245.05" y="192.3" width="1.3" height="12.3" fill="#089981" fill-opacity="0.7"/>
<rect x="243.80" y="199.5" width="3.8" height="2.5" fill="#089981"/>
<rect x="250.51" y="195.9" width="1.3" height="17.3" fill="#f23645" fill-opacity="0.7"/>
<rect x="249.26" y="199.0" width="3.8" height="10.5" fill="#f23645"/>
<rect x="255.97" y="203.5" width="1.3" height="7.6" fill="#089981" fill-opacity="0.7"/>
<rect x="254.72" y="205.0" width="3.8" height="4.0" fill="#089981"/>
<rect x="261.43" y="202.4" width="1.3" height="5.4" fill="#089981" fill-opacity="0.7"/>
<rect x="260.18" y="205.0" width="3.8" height="1.0" fill="#089981"/>
<rect x="266.89" y="203.1" width="1.3" height="15.6" fill="#f23645" fill-opacity="0.7"/>
<rect x="265.64" y="205.0" width="3.8" height="8.0" fill="#f23645"/>
<rect x="272.35" y="208.3" width="1.3" height="17.9" fill="#f23645" fill-opacity="0.7"/>
<rect x="271.10" y="212.5" width="3.8" height="9.5" fill="#f23645"/>
<rect x="277.81" y="215.4" width="1.3" height="19.9" fill="#f23645" fill-opacity="0.7"/>
<rect x="276.56" y="222.0" width="3.8" height="1.5" fill="#f23645"/>
<rect x="283.27" y="203.9" width="1.3" height="19.6" fill="#089981" fill-opacity="0.7"/>
<rect x="282.02" y="205.5" width="3.8" height="18.0" fill="#089981"/>
<rect x="288.73" y="203.9" width="1.3" height="5.6" fill="#f23645" fill-opacity="0.7"/>
<rect x="287.48" y="205.5" width="3.8" height="1.5" fill="#f23645"/>
<rect x="294.19" y="203.9" width="1.3" height="4.3" fill="#f23645" fill-opacity="0.7"/>
<rect x="292.94" y="205.5" width="3.8" height="1.5" fill="#f23645"/>
<rect x="299.65" y="203.1" width="1.3" height="6.5" fill="#f23645" fill-opacity="0.7"/>
<rect x="298.40" y="207.0" width="3.8" height="2.0" fill="#f23645"/>
<rect x="305.11" y="204.6" width="1.3" height="7.1" fill="#089981" fill-opacity="0.7"/>
<rect x="303.86" y="205.5" width="3.8" height="3.5" fill="#089981"/>
<rect x="310.57" y="197.5" width="1.3" height="9.3" fill="#089981" fill-opacity="0.7"/>
<rect x="309.32" y="201.0" width="3.8" height="5.5" fill="#089981"/>
<rect x="316.03" y="193.4" width="1.3" height="9.1" fill="#089981" fill-opacity="0.7"/>
<rect x="314.78" y="195.0" width="3.8" height="7.0" fill="#089981"/>
<rect x="321.49" y="194.4" width="1.3" height="10.2" fill="#f23645" fill-opacity="0.7"/>
<rect x="320.24" y="195.0" width="3.8" height="8.0" fill="#f23645"/>
<rect x="326.95" y="199.6" width="1.3" height="14.3" fill="#f23645" fill-opacity="0.7"/>
<rect x="325.70" y="202.5" width="3.8" height="10.5" fill="#f23645"/>
<rect x="332.41" y="194.9" width="1.3" height="18.4" fill="#089981" fill-opacity="0.7"/>
<rect x="331.16" y="197.5" width="3.8" height="15.0" fill="#089981"/>
<rect x="337.87" y="180.4" width="1.3" height="18.4" fill="#089981" fill-opacity="0.7"/>
<rect x="336.62" y="192.0" width="3.8" height="5.5" fill="#089981"/>
<rect x="343.33" y="191.2" width="1.3" height="11.2" fill="#f23645" fill-opacity="0.7"/>
<rect x="342.08" y="192.0" width="3.8" height="8.5" fill="#f23645"/>
<rect x="348.79" y="195.5" width="1.3" height="6.9" fill="#089981" fill-opacity="0.7"/>
<rect x="347.54" y="196.5" width="3.8" height="4.0" fill="#089981"/>
<rect x="354.25" y="193.8" width="1.3" height="5.4" fill="#f23645" fill-opacity="0.7"/>
<rect x="353.00" y="196.0" width="3.8" height="1.0" fill="#f23645"/>
<rect x="359.71" y="194.4" width="1.3" height="9.5" fill="#f23645" fill-opacity="0.7"/>
<rect x="358.46" y="197.5" width="3.8" height="5.0" fill="#f23645"/>
<rect x="365.17" y="194.9" width="1.3" height="8.6" fill="#089981" fill-opacity="0.7"/>
<rect x="363.92" y="196.0" width="3.8" height="6.5" fill="#089981"/>
<rect x="370.63" y="185.0" width="1.3" height="12.5" fill="#089981" fill-opacity="0.7"/>
<rect x="369.38" y="187.0" width="3.8" height="9.5" fill="#089981"/>
<rect x="376.09" y="169.9" width="1.3" height="17.9" fill="#089981" fill-opacity="0.7"/>
<rect x="374.84" y="171.5" width="3.8" height="15.5" fill="#089981"/>
<rect x="381.55" y="159.7" width="1.3" height="18.4" fill="#f23645" fill-opacity="0.7"/>
<rect x="380.30" y="172.0" width="3.8" height="4.0" fill="#f23645"/>
<rect x="387.01" y="169.9" width="1.3" height="15.8" fill="#f23645" fill-opacity="0.7"/>
<rect x="385.76" y="174.0" width="3.8" height="6.0" fill="#f23645"/>
<rect x="392.47" y="165.1" width="1.3" height="15.1" fill="#089981" fill-opacity="0.7"/>
<rect x="391.22" y="172.5" width="3.8" height="7.5" fill="#089981"/>
<rect x="397.93" y="161.9" width="1.3" height="13.0" fill="#089981" fill-opacity="0.7"/>
<rect x="396.68" y="170.0" width="3.8" height="3.5" fill="#089981"/>
<rect x="403.39" y="166.2" width="1.3" height="17.3" fill="#089981" fill-opacity="0.7"/>
<rect x="402.14" y="167.5" width="3.8" height="3.0" fill="#089981"/>
<rect x="408.85" y="154.3" width="1.3" height="16.9" fill="#089981" fill-opacity="0.7"/>
<rect x="407.60" y="163.5" width="3.8" height="4.0" fill="#089981"/>
<rect x="414.31" y="143.1" width="1.3" height="27.5" fill="#089981" fill-opacity="0.7"/>
<rect x="413.06" y="149.5" width="3.8" height="14.0" fill="#089981"/>
<rect x="419.77" y="112.8" width="1.3" height="41.5" fill="#089981" fill-opacity="0.7"/>
<rect x="418.52" y="148.5" width="3.8" height="1.0" fill="#089981"/>
<rect x="425.23" y="106.3" width="1.3" height="49.1" fill="#089981" fill-opacity="0.7"/>
<rect x="423.98" y="110.0" width="3.8" height="39.5" fill="#089981"/>
<rect x="430.69" y="81.2" width="1.3" height="29.8" fill="#089981" fill-opacity="0.7"/>
<rect x="429.44" y="98.0" width="3.8" height="12.5" fill="#089981"/>
<rect x="436.15" y="79.7" width="1.3" height="24.4" fill="#f23645" fill-opacity="0.7"/>
<rect x="434.90" y="98.0" width="3.8" height="5.0" fill="#f23645"/>
<rect x="441.61" y="86.9" width="1.3" height="25.3" fill="#089981" fill-opacity="0.7"/>
<rect x="440.36" y="88.0" width="3.8" height="15.0" fill="#089981"/>
<rect x="447.07" y="78.6" width="1.3" height="45.8" fill="#f23645" fill-opacity="0.7"/>
<rect x="445.82" y="88.0" width="3.8" height="26.5" fill="#f23645"/>
<rect x="452.53" y="102.0" width="1.3" height="30.3" fill="#089981" fill-opacity="0.7"/>
<rect x="451.28" y="113.0" width="3.8" height="1.0" fill="#089981"/>
<rect x="457.99" y="99.2" width="1.3" height="27.5" fill="#089981" fill-opacity="0.7"/>
<rect x="456.74" y="108.5" width="3.8" height="5.0" fill="#089981"/>
<rect x="463.45" y="102.0" width="1.3" height="11.2" fill="#089981" fill-opacity="0.7"/>
<rect x="462.20" y="107.0" width="3.8" height="1.0" fill="#089981"/>
<rect x="468.91" y="102.0" width="1.3" height="10.2" fill="#089981" fill-opacity="0.7"/>
<rect x="467.66" y="104.0" width="3.8" height="4.0" fill="#089981"/>
<rect x="474.37" y="99.2" width="1.3" height="27.0" fill="#f23645" fill-opacity="0.7"/>
<rect x="473.12" y="104.0" width="3.8" height="20.5" fill="#f23645"/>
<rect x="479.83" y="117.6" width="1.3" height="14.1" fill="#f23645" fill-opacity="0.7"/>
<rect x="478.58" y="123.5" width="3.8" height="2.5" fill="#f23645"/>
<rect x="485.29" y="116.1" width="1.3" height="19.9" fill="#089981" fill-opacity="0.7"/>
<rect x="484.04" y="118.5" width="3.8" height="7.5" fill="#089981"/>
<rect x="490.75" y="115.0" width="1.3" height="20.5" fill="#f23645" fill-opacity="0.7"/>
<rect x="489.50" y="118.0" width="3.8" height="16.5" fill="#f23645"/>
<rect x="496.21" y="126.9" width="1.3" height="16.6" fill="#089981" fill-opacity="0.7"/>
<rect x="494.96" y="133.0" width="3.8" height="1.0" fill="#089981"/>
<rect x="501.67" y="118.6" width="1.3" height="21.6" fill="#f23645" fill-opacity="0.7"/>
<rect x="500.42" y="133.0" width="3.8" height="1.0" fill="#f23645"/>
<rect x="507.13" y="116.1" width="1.3" height="24.2" fill="#089981" fill-opacity="0.7"/>
<rect x="505.88" y="119.5" width="3.8" height="14.5" fill="#089981"/>
<rect x="512.59" y="81.5" width="1.3" height="38.3" fill="#089981" fill-opacity="0.7"/>
<rect x="511.34" y="82.5" width="3.8" height="37.0" fill="#089981"/>
<rect x="518.05" y="55.5" width="1.3" height="32.4" fill="#f23645" fill-opacity="0.7"/>
<rect x="516.80" y="82.5" width="3.8" height="4.0" fill="#f23645"/>
<rect x="523.51" y="83.6" width="1.3" height="18.8" fill="#f23645" fill-opacity="0.7"/>
<rect x="522.26" y="86.0" width="3.8" height="4.0" fill="#f23645"/>
<rect x="528.97" y="76.1" width="1.3" height="18.8" fill="#089981" fill-opacity="0.7"/>
<rect x="527.72" y="77.0" width="3.8" height="13.0" fill="#089981"/>
<rect x="534.43" y="65.2" width="1.3" height="22.7" fill="#089981" fill-opacity="0.7"/>
<rect x="533.18" y="73.5" width="3.8" height="4.0" fill="#089981"/>
<rect x="539.89" y="65.7" width="1.3" height="21.2" fill="#f23645" fill-opacity="0.7"/>
<rect x="538.64" y="73.5" width="3.8" height="12.5" fill="#f23645"/>
<rect x="545.35" y="66.3" width="1.3" height="25.9" fill="#089981" fill-opacity="0.7"/>
<rect x="544.10" y="74.5" width="3.8" height="12.0" fill="#089981"/>
<rect x="550.81" y="59.8" width="1.3" height="28.1" fill="#f23645" fill-opacity="0.7"/>
<rect x="549.56" y="74.5" width="3.8" height="13.0" fill="#f23645"/>
<rect x="556.27" y="46.2" width="1.3" height="46.1" fill="#089981" fill-opacity="0.7"/>
<rect x="555.02" y="51.0" width="3.8" height="36.5" fill="#089981"/>
<rect x="561.73" y="38.6" width="1.3" height="18.4" fill="#089981" fill-opacity="0.7"/>
<rect x="560.48" y="49.5" width="3.8" height="1.5" fill="#089981"/>
<rect x="567.19" y="39.7" width="1.3" height="48.2" fill="#f23645" fill-opacity="0.7"/>
<rect x="565.94" y="49.5" width="3.8" height="33.0" fill="#f23645"/>
<rect x="572.65" y="76.5" width="1.3" height="21.2" fill="#f23645" fill-opacity="0.7"/>
<rect x="571.40" y="82.5" width="3.8" height="8.0" fill="#f23645"/>
<rect x="578.11" y="83.0" width="1.3" height="11.9" fill="#089981" fill-opacity="0.7"/>
<rect x="576.86" y="83.5" width="3.8" height="6.5" fill="#089981"/>
<rect x="583.57" y="76.5" width="1.3" height="10.2" fill="#f23645" fill-opacity="0.7"/>
<rect x="582.32" y="83.0" width="3.8" height="2.0" fill="#f23645"/>
<rect x="589.03" y="84.1" width="1.3" height="18.4" fill="#f23645" fill-opacity="0.7"/>
<rect x="587.78" y="84.5" width="3.8" height="9.5" fill="#f23645"/>
<rect x="594.49" y="91.2" width="1.3" height="22.1" fill="#f23645" fill-opacity="0.7"/>
<rect x="593.24" y="94.0" width="3.8" height="17.5" fill="#f23645"/>
<rect x="599.95" y="96.6" width="1.3" height="16.4" fill="#089981" fill-opacity="0.7"/>
<rect x="598.70" y="99.5" width="3.8" height="12.5" fill="#089981"/>
<rect x="605.41" y="96.6" width="1.3" height="12.1" fill="#f23645" fill-opacity="0.7"/>
<rect x="604.16" y="100.0" width="3.8" height="4.5" fill="#f23645"/>
<rect x="610.87" y="74.2" width="1.3" height="37.2" fill="#089981" fill-opacity="0.7"/>
<rect x="609.62" y="76.5" width="3.8" height="28.0" fill="#089981"/>
<rect x="616.33" y="75.0" width="1.3" height="11.5" fill="#f23645" fill-opacity="0.7"/>
<rect x="615.08" y="77.0" width="3.8" height="5.0" fill="#f23645"/>
<rect x="621.79" y="70.9" width="1.3" height="25.3" fill="#f23645" fill-opacity="0.7"/>
<rect x="620.54" y="81.5" width="3.8" height="11.5" fill="#f23645"/>
<rect x="627.25" y="91.2" width="1.3" height="40.0" fill="#f23645" fill-opacity="0.7"/>
<rect x="626.00" y="92.5" width="3.8" height="31.5" fill="#f23645"/>
<rect x="632.71" y="104.2" width="1.3" height="20.1" fill="#089981" fill-opacity="0.7"/>
<rect x="631.46" y="109.0" width="3.8" height="14.0" fill="#089981"/>
<rect x="638.17" y="99.0" width="1.3" height="15.6" fill="#f23645" fill-opacity="0.7"/>
<rect x="636.92" y="109.0" width="3.8" height="5.0" fill="#f23645"/>
<rect x="643.63" y="105.5" width="1.3" height="10.6" fill="#089981" fill-opacity="0.7"/>
<rect x="642.38" y="109.0" width="3.8" height="5.0" fill="#089981"/>
<rect x="649.09" y="107.7" width="1.3" height="17.1" fill="#f23645" fill-opacity="0.7"/>
<rect x="647.84" y="108.5" width="3.8" height="13.0" fill="#f23645"/>
<rect x="654.55" y="116.8" width="1.3" height="9.7" fill="#089981" fill-opacity="0.7"/>
<rect x="653.30" y="118.5" width="3.8" height="3.0" fill="#089981"/>
<rect x="660.01" y="114.6" width="1.3" height="10.8" fill="#f23645" fill-opacity="0.7"/>
<rect x="658.76" y="118.5" width="3.8" height="6.5" fill="#f23645"/>
<rect x="665.47" y="116.1" width="1.3" height="16.9" fill="#f23645" fill-opacity="0.7"/>
<rect x="664.22" y="124.5" width="3.8" height="1.0" fill="#f23645"/>
<rect x="670.93" y="110.9" width="1.3" height="15.1" fill="#089981" fill-opacity="0.7"/>
<rect x="669.68" y="114.0" width="3.8" height="11.5" fill="#089981"/>
<rect x="676.39" y="109.2" width="1.3" height="8.2" fill="#089981" fill-opacity="0.7"/>
<rect x="675.14" y="110.5" width="3.8" height="4.0" fill="#089981"/>
<rect x="681.85" y="108.8" width="1.3" height="13.4" fill="#f23645" fill-opacity="0.7"/>
<rect x="680.60" y="110.5" width="3.8" height="7.5" fill="#f23645"/>
<rect x="687.31" y="103.8" width="1.3" height="14.1" fill="#089981" fill-opacity="0.7"/>
<rect x="686.06" y="114.0" width="3.8" height="3.5" fill="#089981"/>
<rect x="692.77" y="112.0" width="1.3" height="4.8" fill="#089981" fill-opacity="0.7"/>
<rect x="691.52" y="113.5" width="3.8" height="1.0" fill="#089981"/>
<rect x="698.23" y="102.3" width="1.3" height="12.3" fill="#089981" fill-opacity="0.7"/>
<rect x="696.98" y="104.0" width="3.8" height="9.5" fill="#089981"/>
<rect x="703.69" y="102.3" width="1.3" height="11.2" fill="#f23645" fill-opacity="0.7"/>
<rect x="702.44" y="104.0" width="3.8" height="8.0" fill="#f23645"/>
<rect x="709.15" y="104.9" width="1.3" height="12.5" fill="#f23645" fill-opacity="0.7"/>
<rect x="707.90" y="111.5" width="3.8" height="3.0" fill="#f23645"/>
<rect x="714.61" y="91.5" width="1.3" height="23.8" fill="#089981" fill-opacity="0.7"/>
<rect x="713.36" y="94.5" width="3.8" height="20.0" fill="#089981"/>
<rect x="720.07" y="93.2" width="1.3" height="16.2" fill="#f23645" fill-opacity="0.7"/>
<rect x="718.82" y="94.5" width="3.8" height="7.0" fill="#f23645"/>
<rect x="725.53" y="92.2" width="1.3" height="11.9" fill="#089981" fill-opacity="0.7"/>
<rect x="724.28" y="93.0" width="3.8" height="8.0" fill="#089981"/>
<rect x="730.99" y="83.5" width="1.3" height="10.8" fill="#089981" fill-opacity="0.7"/>
<rect x="729.74" y="89.5" width="3.8" height="4.0" fill="#089981"/>
<rect x="736.45" y="88.5" width="1.3" height="17.7" fill="#f23645" fill-opacity="0.7"/>
<rect x="735.20" y="89.5" width="3.8" height="14.5" fill="#f23645"/>
<rect x="741.91" y="98.0" width="1.3" height="15.8" fill="#f23645" fill-opacity="0.7"/>
<rect x="740.66" y="103.5" width="3.8" height="5.0" fill="#f23645"/>
<rect x="747.37" y="101.5" width="1.3" height="11.7" fill="#089981" fill-opacity="0.7"/>
<rect x="746.12" y="103.0" width="3.8" height="5.5" fill="#089981"/>
<rect x="752.83" y="94.3" width="1.3" height="15.1" fill="#089981" fill-opacity="0.7"/>
<rect x="751.58" y="96.5" width="3.8" height="7.0" fill="#089981"/>
<rect x="758.29" y="89.6" width="1.3" height="14.5" fill="#089981" fill-opacity="0.7"/>
<rect x="757.04" y="92.0" width="3.8" height="5.0" fill="#089981"/>
<rect x="763.75" y="88.9" width="1.3" height="19.5" fill="#f23645" fill-opacity="0.7"/>
<rect x="762.50" y="92.0" width="3.8" height="15.5" fill="#f23645"/>
<rect x="769.21" y="102.5" width="1.3" height="6.3" fill="#f23645" fill-opacity="0.7"/>
<rect x="767.96" y="106.0" width="3.8" height="1.5" fill="#f23645"/>
<rect x="774.67" y="99.3" width="1.3" height="8.2" fill="#089981" fill-opacity="0.7"/>
<rect x="773.42" y="106.0" width="3.8" height="1.0" fill="#089981"/>
<rect x="780.13" y="105.8" width="1.3" height="41.1" fill="#f23645" fill-opacity="0.7"/>
<rect x="778.88" y="106.5" width="3.8" height="29.5" fill="#f23645"/>
<rect x="785.59" y="131.1" width="1.3" height="8.6" fill="#089981" fill-opacity="0.7"/>
<rect x="784.34" y="133.0" width="3.8" height="3.0" fill="#089981"/>
<rect x="791.05" y="128.3" width="1.3" height="10.4" fill="#f23645" fill-opacity="0.7"/>
<rect x="789.80" y="134.0" width="3.8" height="3.0" fill="#f23645"/>
<rect x="796.51" y="135.4" width="1.3" height="18.4" fill="#f23645" fill-opacity="0.7"/>
<rect x="795.26" y="136.0" width="3.8" height="11.5" fill="#f23645"/>
<rect x="801.97" y="138.2" width="1.3" height="13.4" fill="#089981" fill-opacity="0.7"/>
<rect x="800.72" y="139.0" width="3.8" height="8.5" fill="#089981"/>
<rect x="807.43" y="136.5" width="1.3" height="6.9" fill="#f23645" fill-opacity="0.7"/>
<rect x="806.18" y="138.0" width="3.8" height="1.5" fill="#f23645"/>
<rect x="812.89" y="130.0" width="1.3" height="15.1" fill="#089981" fill-opacity="0.7"/>
<rect x="811.64" y="131.0" width="3.8" height="8.0" fill="#089981"/>
<rect x="818.35" y="128.9" width="1.3" height="7.6" fill="#f23645" fill-opacity="0.7"/>
<rect x="817.10" y="130.5" width="3.8" height="1.0" fill="#f23645"/>
<rect x="823.81" y="128.8" width="1.3" height="11.9" fill="#089981" fill-opacity="0.7"/>
<rect x="822.56" y="130.5" width="3.8" height="1.0" fill="#089981"/>
<rect x="829.27" y="102.8" width="1.3" height="32.4" fill="#089981" fill-opacity="0.7"/>
<rect x="828.02" y="103.5" width="3.8" height="28.0" fill="#089981"/>
<rect x="834.73" y="76.9" width="1.3" height="27.7" fill="#089981" fill-opacity="0.7"/>
<rect x="833.48" y="87.5" width="3.8" height="16.5" fill="#089981"/>
<rect x="840.19" y="69.8" width="1.3" height="30.9" fill="#089981" fill-opacity="0.7"/>
<rect x="838.94" y="84.5" width="3.8" height="4.0" fill="#089981"/>
<rect x="845.65" y="82.9" width="1.3" height="12.3" fill="#f23645" fill-opacity="0.7"/>
<rect x="844.40" y="83.5" width="3.8" height="1.5" fill="#f23645"/>
<rect x="851.11" y="73.6" width="1.3" height="17.9" fill="#f23645" fill-opacity="0.7"/>
<rect x="849.86" y="85.0" width="3.8" height="6.0" fill="#f23645"/>
<rect x="856.57" y="81.2" width="1.3" height="11.9" fill="#f23645" fill-opacity="0.7"/>
<rect x="855.32" y="90.0" width="3.8" height="2.5" fill="#f23645"/>
<rect x="862.03" y="89.2" width="1.3" height="13.6" fill="#f23645" fill-opacity="0.7"/>
<rect x="860.78" y="92.5" width="3.8" height="5.0" fill="#f23645"/>
<rect x="867.49" y="88.4" width="1.3" height="13.4" fill="#089981" fill-opacity="0.7"/>
<rect x="866.24" y="92.0" width="3.8" height="5.5" fill="#089981"/>
<rect x="872.95" y="58.9" width="1.3" height="41.7" fill="#089981" fill-opacity="0.7"/>
<rect x="871.70" y="67.0" width="3.8" height="25.5" fill="#089981"/>
<rect x="878.41" y="32.6" width="1.3" height="282.7" fill="#f23645" fill-opacity="0.7"/>
<rect x="877.16" y="67.0" width="3.8" height="99.0" fill="#f23645"/>
<rect x="883.87" y="144.9" width="1.3" height="43.2" fill="#f23645" fill-opacity="0.7"/>
<rect x="882.62" y="165.5" width="3.8" height="12.5" fill="#f23645"/>
<rect x="889.33" y="147.0" width="1.3" height="35.7" fill="#089981" fill-opacity="0.7"/>
<rect x="888.08" y="158.0" width="3.8" height="20.0" fill="#089981"/>
<rect x="894.79" y="150.3" width="1.3" height="21.2" fill="#089981" fill-opacity="0.7"/>
<rect x="893.54" y="157.0" width="3.8" height="1.5" fill="#089981"/>
<rect x="900.25" y="152.9" width="1.3" height="31.6" fill="#f23645" fill-opacity="0.7"/>
<rect x="899.00" y="157.0" width="3.8" height="7.5" fill="#f23645"/>
<rect x="905.71" y="154.2" width="1.3" height="12.8" fill="#f23645" fill-opacity="0.7"/>
<rect x="904.46" y="164.0" width="3.8" height="3.0" fill="#f23645"/>
<rect x="0" y="344" width="1024" height="1" fill="#e6e8ee"/>
<rect x="0" y="522" width="1024" height="1" fill="#e6e8ee"/>
<rect x="0" y="391.5" width="964" height="92.0" fill="#7e57c2" fill-opacity="0.1"/>
<line x1="0" y1="391.5" x2="964" y2="391.5" stroke="#80838d" stroke-width="1" stroke-dasharray="4 4" stroke-dashoffset="3"/>
<line x1="0" y1="483.5" x2="964" y2="483.5" stroke="#80838d" stroke-width="1" stroke-dasharray="4 4" stroke-dashoffset="3"/>
<line x1="0" y1="438.0" x2="964" y2="438.0" stroke="#787b86" stroke-opacity="0.35" stroke-width="1" stroke-dasharray="4 4" stroke-dashoffset="3"/>
<defs><linearGradient id="ob" x1="0" y1="355" x2="0" y2="391.5" gradientUnits="userSpaceOnUse"><stop offset="0" stop-color="#4caf50" stop-opacity="0.5"/><stop offset="1" stop-color="#4caf50" stop-opacity="0"/></linearGradient><clipPath id="obc"><rect x="0" y="340" width="1024" height="51.5"/></clipPath></defs>
<path d="M0.0,415.4 L5.5,423.0 L10.9,431.6 L16.4,439.6 L21.8,408.9 L27.3,418.0 L32.8,402.4 L38.2,390.5 L43.7,383.0 L49.1,403.5 L54.6,396.4 L60.1,398.1 L65.5,406.8 L71.0,413.2 L76.4,413.7 L81.9,426.2 L87.4,413.2 L92.8,424.1 L98.3,434.9 L103.7,426.6 L109.2,419.3 L114.7,434.9 L120.1,433.8 L125.6,434.2 L131.0,435.9 L136.5,432.7 L142.0,434.9 L147.4,443.5 L152.9,465.1 L158.3,459.7 L163.8,454.8 L169.3,450.4 L174.7,450.4 L180.2,455.4 L185.6,468.4 L191.1,453.2 L196.6,448.3 L202.0,452.2 L207.5,438.8 L212.9,428.4 L218.4,434.9 L223.9,453.7 L229.3,451.7 L234.8,456.1 L240.2,451.7 L245.7,450.0 L251.2,458.2 L256.6,453.9 L262.1,453.7 L267.5,461.9 L273.0,471.0 L278.5,471.0 L283.9,446.1 L289.4,446.1 L294.8,447.2 L300.3,449.4 L305.8,445.7 L311.2,437.0 L316.7,428.8 L322.1,439.2 L327.6,452.8 L333.1,432.7 L338.5,424.7 L344.0,435.5 L349.4,432.7 L354.9,433.8 L360.4,439.7 L365.8,429.6 L371.3,415.9 L376.7,403.0 L382.2,406.6 L387.7,415.3 L393.1,408.4 L398.6,404.5 L404.0,401.9 L409.5,398.0 L415.0,385.7 L420.4,385.2 L425.9,364.1 L431.3,359.7 L436.8,366.2 L442.3,360.8 L447.7,397.6 L453.2,396.5 L458.6,393.7 L464.1,393.2 L469.6,391.5 L475.0,417.5 L480.5,419.7 L485.9,413.9 L491.4,431.0 L496.9,429.5 L502.3,431.6 L507.8,416.5 L513.2,392.3 L518.7,396.4 L524.2,400.7 L529.6,393.4 L535.1,391.2 L540.5,406.8 L546.0,399.2 L551.5,412.8 L556.9,391.6 L562.4,392.1 L567.8,422.5 L573.3,428.4 L578.8,424.1 L584.2,425.1 L589.7,433.8 L595.1,446.3 L600.6,437.5 L606.1,440.7 L611.5,421.2 L617.0,425.1 L622.4,433.8 L627.9,454.3 L633.4,443.5 L638.8,446.1 L644.3,442.9 L649.7,451.1 L655.2,448.5 L660.7,452.8 L666.1,453.2 L671.6,443.9 L677.0,440.3 L682.5,445.7 L688.0,442.4 L693.4,442.0 L698.9,432.7 L704.3,439.8 L709.8,442.9 L715.3,424.1 L720.7,430.1 L726.2,423.0 L731.6,420.2 L737.1,435.3 L742.6,440.3 L748.0,435.5 L753.5,428.4 L758.9,424.5 L764.4,440.3 L769.9,440.3 L775.3,440.7 L780.8,466.6 L786.2,465.1 L791.7,466.6 L797.2,475.3 L802.6,464.5 L808.1,464.5 L813.5,453.7 L819.0,453.9 L824.5,452.8 L829.9,419.7 L835.4,407.8 L840.8,405.0 L846.3,405.7 L851.8,413.2 L857.2,416.1 L862.7,422.5 L868.1,416.1 L873.6,395.9 L879.1,471.6 L884.5,476.6 L890.0,462.5 L895.4,461.2 L900.9,464.5 L906.4,466.2 L906.4,391.5 L0,391.5 Z" fill="url(#ob)" clip-path="url(#obc)"/>
<path d="M0.0,427.3 C1.6,426.6 5.5,424.6 8.6,423.6 C11.8,422.6 14.2,422.4 17.3,421.9 C20.4,421.4 22.8,421.4 25.9,420.8 C29.1,420.2 31.5,419.6 34.6,418.6 C37.7,417.7 39.7,416.6 43.2,415.4 C46.7,414.2 50.6,413.1 54.1,412.2 C57.6,411.2 59.6,410.6 62.7,410.0 C65.8,409.4 67.8,409.2 71.4,408.9 C74.9,408.6 78.7,408.9 82.2,408.5 C85.7,408.1 88.1,406.9 90.8,406.8 C93.5,406.6 94.6,407.3 97.3,407.8 C100.0,408.4 102.8,408.8 105.9,410.0 C109.1,411.2 112.1,413.2 114.6,414.3 C117.1,415.5 117.5,415.2 120.0,416.5 C122.5,417.8 125.5,419.8 128.6,421.5 C131.8,423.1 134.2,424.3 137.3,425.8 C140.4,427.2 142.8,427.9 145.9,429.5 C149.1,431.0 151.5,432.5 154.6,434.2 C157.7,435.9 160.1,437.5 163.2,438.8 C166.4,440.0 168.8,440.3 171.9,441.4 C175.0,442.4 177.4,443.4 180.5,444.6 C183.7,445.8 186.1,446.9 189.2,447.8 C192.3,448.8 194.7,449.5 197.8,450.0 C201.0,450.5 203.4,450.7 206.5,450.9 C209.6,451.0 212.0,450.7 215.1,450.6 C218.2,450.6 220.7,450.5 223.8,450.4 C226.9,450.3 229.5,450.3 232.4,450.0 C235.4,449.7 237.1,449.0 240.0,448.9 C242.9,448.8 245.5,449.6 248.6,449.6 C251.8,449.6 254.2,449.0 257.3,448.9 C260.4,448.8 262.8,448.4 265.9,448.9 C269.1,449.4 271.5,451.0 274.6,451.7 C277.7,452.5 280.1,452.7 283.2,453.2 C286.4,453.8 288.8,454.5 291.9,454.8 C295.0,455.0 297.4,455.0 300.5,454.8 C303.7,454.5 306.1,453.8 309.2,453.2 C312.3,452.7 314.7,452.0 317.8,451.5 C321.0,451.0 323.4,451.1 326.5,450.4 C329.6,449.8 332.0,448.9 335.1,447.8 C338.2,446.8 340.7,445.8 343.8,444.6 C346.9,443.3 349.5,442.0 352.4,440.9 C355.4,439.8 357.1,439.3 360.0,438.6 C362.9,438.0 365.5,438.7 368.6,437.6 C371.8,436.4 374.2,433.8 377.3,432.2 C380.4,430.5 382.8,429.4 385.9,428.3 C389.1,427.1 391.5,427.0 394.6,425.7 C397.7,424.4 400.1,422.6 403.2,420.9 C406.4,419.3 408.8,418.3 411.9,416.6 C415.0,414.9 417.4,413.9 420.5,411.6 C423.7,409.4 426.1,407.0 429.2,404.1 C432.3,401.1 435.1,397.8 437.8,395.4 C440.6,393.0 442.0,391.7 444.3,390.6 C446.7,389.6 448.1,390.2 450.8,389.6 C453.5,388.9 456.3,387.9 459.5,387.2 C462.6,386.5 465.0,385.8 468.1,385.7 C471.2,385.6 474.6,386.4 476.8,386.8 C478.9,387.1 478.2,387.2 480.0,387.7 C481.8,388.3 484.2,388.6 486.5,389.9 C488.8,391.2 490.2,392.7 493.0,394.9 C495.7,397.0 498.5,399.9 501.6,402.0 C504.7,404.1 507.2,405.5 510.3,406.8 C513.4,408.0 515.8,408.5 518.9,408.9 C522.0,409.3 524.5,408.9 527.6,408.9 C530.7,408.9 533.1,408.7 536.2,408.9 C539.3,409.1 541.8,410.0 544.9,410.0 C548.0,410.0 550.4,409.7 553.5,408.9 C556.6,408.1 559.0,406.3 562.2,405.7 C565.3,405.1 566.9,405.8 570.8,405.7 C574.7,405.6 579.9,404.3 583.8,405.2 C587.7,406.2 589.5,409.4 592.4,411.1 C595.4,412.7 597.1,413.0 600.0,414.3 C602.9,415.7 605.5,417.1 608.6,418.6 C611.8,420.2 614.2,421.3 617.3,423.0 C620.4,424.6 622.8,426.2 625.9,427.9 C629.1,429.7 631.5,431.3 634.6,432.7 C637.7,434.1 640.1,434.9 643.2,435.9 C646.4,437.0 648.8,437.8 651.9,438.8 C655.0,439.7 657.4,440.7 660.5,441.4 C663.7,442.0 666.1,442.2 669.2,442.4 C672.3,442.6 674.7,442.0 677.8,442.4 C681.0,442.8 683.4,444.0 686.5,444.6 C689.6,445.2 692.0,445.7 695.1,445.7 C698.2,445.7 700.7,445.0 703.8,444.6 C706.9,444.2 709.5,444.0 712.4,443.5 C715.4,443.0 717.1,442.6 720.0,441.8 C722.9,440.9 725.5,439.6 728.6,438.8 C731.8,437.9 734.2,437.6 737.3,437.0 C740.4,436.4 742.8,435.9 745.9,435.3 C749.1,434.7 751.5,434.3 754.6,433.8 C757.7,433.3 760.1,432.9 763.2,432.7 C766.4,432.5 768.8,432.5 771.9,432.9 C775.0,433.3 777.4,433.7 780.5,434.9 C783.7,436.0 786.1,437.4 789.2,439.2 C792.3,440.9 794.7,442.8 797.8,444.6 C801.0,446.3 803.4,447.6 806.5,448.9 C809.6,450.3 812.7,451.7 815.1,452.2 C817.6,452.7 818.0,451.7 820.0,451.7 C822.0,451.8 824.2,452.7 826.5,452.6 C828.8,452.5 830.2,452.0 833.0,451.1 C835.7,450.1 838.5,448.8 841.6,447.4 C844.7,446.0 847.2,445.1 850.3,443.5 C853.4,442.0 855.8,440.5 858.9,438.8 C862.0,437.0 864.9,435.7 867.6,433.8 C870.2,431.8 871.7,429.0 873.6,427.9 C875.6,426.9 876.4,427.7 878.4,427.9 C880.4,428.2 882.1,429.0 884.9,429.5 C887.6,429.9 890.8,430.2 893.5,430.5 C896.2,430.9 897.7,430.9 900.0,431.6 C902.3,432.3 905.1,433.9 906.3,434.4" fill="none" stroke="#f9d43e" stroke-opacity="0.6" stroke-width="1.25" stroke-linejoin="round"/>
<path d="M0.0,415.4 L5.5,423.0 L10.9,431.6 L16.4,439.6 L21.8,408.9 L27.3,418.0 L32.8,402.4 L38.2,390.5 L43.7,383.0 L49.1,403.5 L54.6,396.4 L60.1,398.1 L65.5,406.8 L71.0,413.2 L76.4,413.7 L81.9,426.2 L87.4,413.2 L92.8,424.1 L98.3,434.9 L103.7,426.6 L109.2,419.3 L114.7,434.9 L120.1,433.8 L125.6,434.2 L131.0,435.9 L136.5,432.7 L142.0,434.9 L147.4,443.5 L152.9,465.1 L158.3,459.7 L163.8,454.8 L169.3,450.4 L174.7,450.4 L180.2,455.4 L185.6,468.4 L191.1,453.2 L196.6,448.3 L202.0,452.2 L207.5,438.8 L212.9,428.4 L218.4,434.9 L223.9,453.7 L229.3,451.7 L234.8,456.1 L240.2,451.7 L245.7,450.0 L251.2,458.2 L256.6,453.9 L262.1,453.7 L267.5,461.9 L273.0,471.0 L278.5,471.0 L283.9,446.1 L289.4,446.1 L294.8,447.2 L300.3,449.4 L305.8,445.7 L311.2,437.0 L316.7,428.8 L322.1,439.2 L327.6,452.8 L333.1,432.7 L338.5,424.7 L344.0,435.5 L349.4,432.7 L354.9,433.8 L360.4,439.7 L365.8,429.6 L371.3,415.9 L376.7,403.0 L382.2,406.6 L387.7,415.3 L393.1,408.4 L398.6,404.5 L404.0,401.9 L409.5,398.0 L415.0,385.7 L420.4,385.2 L425.9,364.1 L431.3,359.7 L436.8,366.2 L442.3,360.8 L447.7,397.6 L453.2,396.5 L458.6,393.7 L464.1,393.2 L469.6,391.5 L475.0,417.5 L480.5,419.7 L485.9,413.9 L491.4,431.0 L496.9,429.5 L502.3,431.6 L507.8,416.5 L513.2,392.3 L518.7,396.4 L524.2,400.7 L529.6,393.4 L535.1,391.2 L540.5,406.8 L546.0,399.2 L551.5,412.8 L556.9,391.6 L562.4,392.1 L567.8,422.5 L573.3,428.4 L578.8,424.1 L584.2,425.1 L589.7,433.8 L595.1,446.3 L600.6,437.5 L606.1,440.7 L611.5,421.2 L617.0,425.1 L622.4,433.8 L627.9,454.3 L633.4,443.5 L638.8,446.1 L644.3,442.9 L649.7,451.1 L655.2,448.5 L660.7,452.8 L666.1,453.2 L671.6,443.9 L677.0,440.3 L682.5,445.7 L688.0,442.4 L693.4,442.0 L698.9,432.7 L704.3,439.8 L709.8,442.9 L715.3,424.1 L720.7,430.1 L726.2,423.0 L731.6,420.2 L737.1,435.3 L742.6,440.3 L748.0,435.5 L753.5,428.4 L758.9,424.5 L764.4,440.3 L769.9,440.3 L775.3,440.7 L780.8,466.6 L786.2,465.1 L791.7,466.6 L797.2,475.3 L802.6,464.5 L808.1,464.5 L813.5,453.7 L819.0,453.9 L824.5,452.8 L829.9,419.7 L835.4,407.8 L840.8,405.0 L846.3,405.7 L851.8,413.2 L857.2,416.1 L862.7,422.5 L868.1,416.1 L873.6,395.9 L879.1,471.6 L884.5,476.6 L890.0,462.5 L895.4,461.2 L900.9,464.5 L906.4,466.2" fill="none" stroke="#7564ba" stroke-opacity="0.95" stroke-width="1.1" stroke-linejoin="round"/>
</svg>
<!-- header -->
<svg class="t" style="left:4px;top:3px" width="22" height="20" viewBox="0 0 22 20">
<circle cx="12.7" cy="6.6" r="5.3" fill="#0e9c8c"/>
<circle cx="6.9" cy="12.2" r="6.1" fill="#fff"/>
<circle cx="6.9" cy="12.2" r="5.1" fill="#2d58a0"/>
<text x="13.2" y="8.6" font-size="6" font-weight="bold" fill="#b8f0ea" text-anchor="middle" font-family="Liberation Sans, DejaVu Sans, sans-serif">₮</text>
<text x="6.9" y="14.8" font-size="7.2" font-weight="bold" fill="#fff" text-anchor="middle" font-style="italic" font-family="Liberation Sans, sans-serif">Ł</text>
</svg>
<div class="t" id="title" style="left:24.8px;top:6.9px;font-size:13.8px;-webkit-text-stroke:0.3px #131722"><span class="w" style="left:0;letter-spacing:0.7px">Litecoin</span><span class="w" style="left:59.2px">/</span><span class="w" style="left:69.3px;letter-spacing:0.12px">TetherUS</span><span class="w" style="left:129.4px">·</span><span class="w" style="left:137.8px;letter-spacing:-0.9px">1D</span><span class="w" style="left:156.8px">·</span><span class="w" style="left:165.7px;letter-spacing:0.1px">Binance</span></div>
<div style="position:absolute;left:249.6px;top:5.3px;width:14px;height:14px;border-radius:7px;background:#08998122"></div>
<div style="position:absolute;left:252.9px;top:8.6px;width:7.4px;height:7.4px;border-radius:3.7px;background:#089981"></div>
<div class="t" id="ohlc" style="left:272px;top:7.2px;font-size:11px;letter-spacing:0.36px"><span class="w" style="left:0">O<span class="r">97.33</span></span><span class="w" style="left:44.4px">H<span class="r">99.97</span></span><span class="w" style="left:87.6px">L<span class="r">96.47</span></span><span class="w" style="left:128.7px">C<span class="r">96.50</span></span><span class="w r" style="left:171.2px">−0.83</span><span class="w r" style="left:204.8px;letter-spacing:-0.15px">(−0.85%)</span></div>
<!-- sell/buy -->
<div style="position:absolute;left:4.3px;top:26.8px;width:50.2px;height:31.2px;box-sizing:border-box;border:1px solid #f2364588;border-radius:5px;background:#fff"></div>
<div class="t r" id="sellp" style="left:4.3px;width:50.2px;text-align:center;top:31.5px;font-size:10.4px;font-weight:bold;letter-spacing:0.7px;text-indent:0.7px">96.50</div>
<div class="t r" id="sellt" style="left:4.3px;width:50.2px;text-align:center;top:44.1px;font-size:9.7px;transform:scaleX(0.88)">SELL</div>
<div class="t" id="spread" style="left:60.8px;top:37.5px;font-size:9px;">0.01</div>
<div style="position:absolute;left:85.8px;top:26.8px;width:50.2px;height:31.2px;box-sizing:border-box;border:1px solid #2962ff88;border-radius:5px;background:#fff"></div>
<div class="t b" id="buyp" style="left:85.4px;width:50.2px;text-align:center;top:31.5px;font-size:10.4px;font-weight:bold;letter-spacing:0.7px;text-indent:0.7px">96.51</div>
<div class="t b" id="buyt" style="left:85.1px;width:50.2px;text-align:center;top:44.1px;font-size:9.7px;transform:scaleX(0.88)">BUY</div>
<!-- BB legend -->
<div class="t" id="bbl" style="left:5.5px;top:67.5px;font-size:11px;">BB 20 SMA close 2</div>
<div class="t b" id="bb1" style="left:105.8px;top:67.5px;font-size:11px;letter-spacing:0.4px;">109.32</div>
<div class="t r" id="bb2" style="left:147.2px;top:67.5px;font-size:11px;letter-spacing:0.4px;">129.15</div>
<div class="t g" id="bb3" style="left:187.8px;top:67.5px;font-size:11px;letter-spacing:0.4px;">89.48</div>
<div style="position:absolute;left:4.3px;top:85.8px;width:26.5px;height:19.5px;box-sizing:border-box;border:1px solid #e0e3eb;border-radius:3px;background:#fff"></div>
<svg class="t" style="left:12.3px;top:90.5px" width="10" height="8" viewBox="0 0 10 8"><path d="M1.5 6 L5 2.5 L8.5 6" fill="none" stroke="#131722" stroke-width="1.3"/></svg>
<!-- RSI legend -->
<div class="t" id="rsil" style="left:5.5px;top:354.1px;font-size:11px;letter-spacing:-0.1px">RSI 14 close</div>
<svg class="t" style="left:73.3px;top:350.1px" width="18" height="18" viewBox="0 0 18 18"><circle cx="9" cy="9" r="7.2" fill="#7e57c2" fill-opacity="0.16"/><path d="M5 8 A4.2 4.2 0 0 1 12.6 6.3 M13 10 A4.2 4.2 0 0 1 5.4 11.7" fill="none" stroke="#7c4dff" stroke-width="1.6"/><path d="M13.3 3.8 L13 7 L10 6.2 Z M4.7 14.2 L5 11 L8 11.8 Z" fill="#7c4dff"/></svg>
<div class="t" id="rsi1" style="letter-spacing:0.2px;left:97.5px;top:354.1px;font-size:11px;color:#7e57c2">37.52</div>
<div class="t" id="rsi2" style="letter-spacing:0.2px;left:132.3px;top:354.1px;font-size:11px;color:#fdd835">51.10</div>
<!-- TV logo -->
<svg class="t" style="left:8px;top:470.3px" width="27" height="13.3" viewBox="0 0 36 18" preserveAspectRatio="none"><path d="M0 0 H17.8 V18 H8.2 V6.3 H0 Z" fill="#131722"/><circle cx="22" cy="3" r="2.9" fill="#131722"/><path d="M26.7 0 H36 L29.3 18 H20.4 Z" fill="#131722"/></svg>
<div class="t" id="tv" style="left:41.3px;top:468.3px;font-size:18.8px;font-weight:bold;letter-spacing:0px">TradingView</div>
<!-- price axis -->
<div style="position:absolute;left:969.3px;top:1.7px;width:52px;height:22.5px;box-sizing:border-box;border:1px solid #e0e3eb;border-radius:4px;background:#fff"></div>
<div class="t" id="usdt" style="left:972.2px;top:8px;font-size:11.4px;transform:scaleX(0.8);transform-origin:0 0">USDT</div>
<svg class="t" style="left:1011.3px;top:10.8px" width="7" height="5.25" viewBox="0 0 8 6"><path d="M1.2 1.5 L4 4.2 L6.8 1.5" fill="none" stroke="#131722" stroke-width="1.3"/></svg>
<div class="t ax" style="top:82.1px">120.00</div>
<div class="t ax" style="top:150.6px">100.00</div>
<div class="t ax" style="top:218.2px">80.00</div>
<div class="t ax" style="top:252.2px">70.00</div>
<div class="t ax" style="top:286.2px">60.00</div>
<div class="t ax" style="top:320.2px">50.00</div>
<div class="t ax" style="top:363.6px">80.00</div>
<div class="t ax" style="top:409.3px">60.00</div>
<div class="t ax" style="top:455px">40.00</div>
<div class="lab" style="left:966px;top:48px;width:44.5px;height:15px;background:#f23645;padding:3.3px 0 0 7.8px">129.15</div>
<div class="lab" style="left:966px;top:116px;width:44.5px;height:14.7px;background:#2962ff;padding:3.2px 0 0 7.8px">109.32</div>
<div class="lab" style="left:915px;top:160.3px;width:50px;height:14.2px;background:#f23645;padding:2.4px 0 0 4.5px;font-size:10px;letter-spacing:-0.8px;border-radius:2px 0 0 2px">LTCUSDT</div>
<div class="lab" style="left:966px;top:159.5px;width:54.3px;height:28.2px;background:#f23645;padding:2.8px 0 0 7.8px;line-height:12.9px;border-radius:2px 2px 2px 0"><div style="line-height:1">96.50</div><div style="line-height:1;margin-top:2.3px">11:24:04</div></div>
<div class="lab" style="left:966px;top:187.7px;width:38.6px;height:14.5px;background:#089981;padding:2.7px 0 0 7.8px;border-radius:0 0 2px 2px">89.48</div>
<div class="lab" style="left:966px;top:427.8px;width:38.6px;height:14.5px;background:#fdd835;color:#131722;padding:3px 0 0 7.8px">51.10</div>
<div class="lab" style="left:966px;top:459.2px;width:38.6px;height:14.6px;background:#7e57c2;padding:3px 0 0 7.8px">37.52</div>
<!-- lightning -->
<svg class="t" style="left:895px;top:319px" width="24" height="24" viewBox="0 0 24 24"><circle cx="11.4" cy="12.6" r="8.8" fill="#fff" stroke="#9c27b0" stroke-width="1.3"/><circle cx="17.8" cy="6.3" r="3.8" fill="#fff"/><circle cx="17.8" cy="6.3" r="2.4" fill="#f23645"/><path d="M13.5 7.8 L7.8 12.8 L10.9 13.3 L8.6 17.6 L14.9 11.9 L11.8 11.5 Z" fill="#9c27b0"/></svg>
<!-- time axis -->
<div class="t mo" id="m1" style="left:155.5px">Jun</div>
<div class="t mo" id="m2" style="left:320.5px">Jul</div>
<div class="t mo" id="m3" style="left:487px">Aug</div>
<div class="t mo" id="m4" style="left:655.5px">Sep</div>
<div class="t mo" id="m5" style="left:820.5px">Oct</div>
<svg class="t" style="left:988px;top:502px" width="16" height="16" viewBox="0 0 16 16"><path d="M8 1.6 L13.6 4.8 V11.2 L8 14.4 L2.4 11.2 V4.8 Z" fill="none" stroke="#131722" stroke-width="1.05" transform="rotate(30 8 8)"/><circle cx="8" cy="8" r="1.9" fill="none" stroke="#131722" stroke-width="1.05"/></svg>
<!-- bottom toolbar -->
<div class="t bt" id="b1" style="left:11px">1D</div>
<div class="t bt" id="b2" style="left:35.5px">5D</div>
<div class="t bt" id="b3" style="left:61.5px">1M</div>
<div class="t bt" id="b4" style="left:88px">3M</div>
<div class="t bt" id="b5" style="left:114px">6M</div>
<div class="t bt" id="b6" style="left:140.5px">YTD</div>
<div class="t bt" id="b7" style="left:175px">1Y</div>
<div class="t bt" id="b8" style="left:199px">5Y</div>
<div class="t bt" id="b9" style="left:224px">All</div>
<div style="position:absolute;left:248px;top:530px;width:1px;height:20px;background:#e8eaef"></div>
<svg class="t" style="left:260px;top:530px" width="19" height="19" viewBox="0 0 19 19"><path d="M1.4 8.4 V4.6 a1.5 1.5 0 0 1 1.5 -1.5 H16 a1.5 1.5 0 0 1 1.5 1.5 V15.3 a1.5 1.5 0 0 1 -1.5 1.5 H9.9 M1.4 6.6 H17.5 M6.4 1 V4.8 M12.8 1 V4.8 M0.5 14.2 H7.3 M4.6 11.3 L7.5 14.2 L4.6 17.1" fill="none" stroke="#131722" stroke-width="1.15"/></svg>
<div class="t" id="clock" style="left:908.3px;top:534.4px;font-size:12.3px;letter-spacing:-0.05px">18:05:56 UTC+5:30</div>
</body></html>
